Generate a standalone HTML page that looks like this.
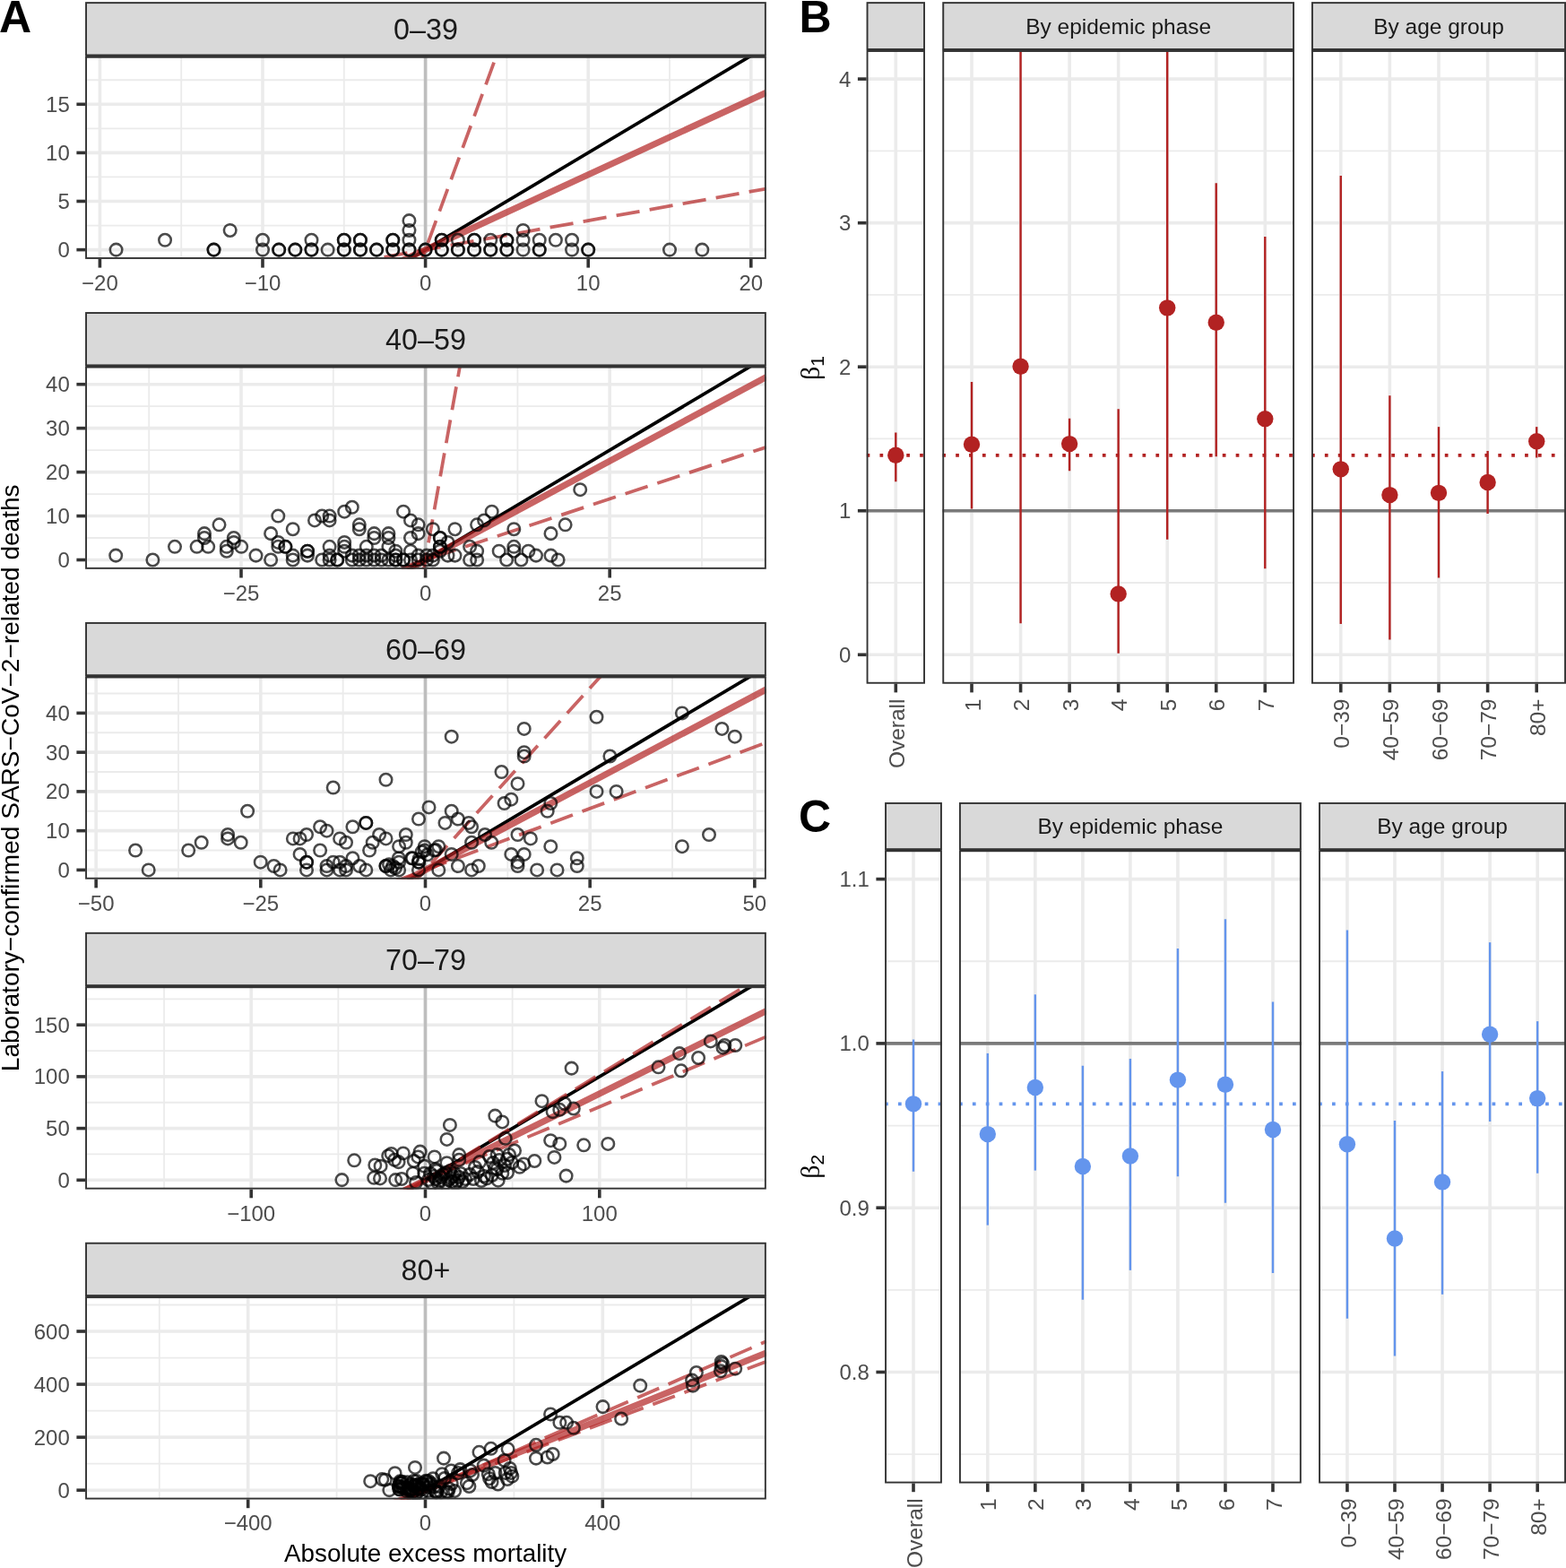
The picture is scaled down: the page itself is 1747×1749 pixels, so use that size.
<!DOCTYPE html>
<html><head><meta charset="utf-8"><title>Figure</title>
<style>html,body{margin:0;padding:0;background:#fff;}svg{display:block;}</style>
</head><body>
<svg width="1747" height="1749" viewBox="0 0 1747 1749">
<rect x="0" y="0" width="1747" height="1749" fill="#FFFFFF"/>
<rect x="95.1" y="2.2" width="759.7" height="60.4" fill="#D9D9D9"/>
<rect x="96.05" y="3.15" width="757.8" height="58.5" fill="none" stroke="#333333" stroke-width="1.9"/>
<text x="474.95" y="44" font-size="32.3" fill="#1A1A1A" text-anchor="middle" font-weight="normal" font-family="'Liberation Sans', Arial, Helvetica, sans-serif">0–39</text>
<rect x="95.1" y="62.6" width="759.7" height="226.3" fill="#FFFFFF"/>
<clipPath id="c1"><rect x="95.1" y="62.6" width="759.7" height="226.3"/></clipPath>
<g clip-path="url(#c1)">
<line x1="95.1" y1="251.55" x2="854.8" y2="251.55" stroke="#EBEBEB" stroke-width="1.8"/>
<line x1="95.1" y1="197.45" x2="854.8" y2="197.45" stroke="#EBEBEB" stroke-width="1.8"/>
<line x1="95.1" y1="143.35" x2="854.8" y2="143.35" stroke="#EBEBEB" stroke-width="1.8"/>
<line x1="95.1" y1="89.25" x2="854.8" y2="89.25" stroke="#EBEBEB" stroke-width="1.8"/>
<line x1="202.2" y1="62.6" x2="202.2" y2="288.9" stroke="#EBEBEB" stroke-width="1.8"/>
<line x1="383.8" y1="62.6" x2="383.8" y2="288.9" stroke="#EBEBEB" stroke-width="1.8"/>
<line x1="565.4" y1="62.6" x2="565.4" y2="288.9" stroke="#EBEBEB" stroke-width="1.8"/>
<line x1="747" y1="62.6" x2="747" y2="288.9" stroke="#EBEBEB" stroke-width="1.8"/>
<line x1="95.1" y1="278.6" x2="854.8" y2="278.6" stroke="#EBEBEB" stroke-width="3.6"/>
<line x1="95.1" y1="224.5" x2="854.8" y2="224.5" stroke="#EBEBEB" stroke-width="3.6"/>
<line x1="95.1" y1="170.4" x2="854.8" y2="170.4" stroke="#EBEBEB" stroke-width="3.6"/>
<line x1="95.1" y1="116.3" x2="854.8" y2="116.3" stroke="#EBEBEB" stroke-width="3.6"/>
<line x1="111.4" y1="62.6" x2="111.4" y2="288.9" stroke="#EBEBEB" stroke-width="3.6"/>
<line x1="293" y1="62.6" x2="293" y2="288.9" stroke="#EBEBEB" stroke-width="3.6"/>
<line x1="474.6" y1="62.6" x2="474.6" y2="288.9" stroke="#EBEBEB" stroke-width="3.6"/>
<line x1="656.2" y1="62.6" x2="656.2" y2="288.9" stroke="#EBEBEB" stroke-width="3.6"/>
<line x1="837.8" y1="62.6" x2="837.8" y2="288.9" stroke="#EBEBEB" stroke-width="3.6"/>
<line x1="474.6" y1="62.6" x2="474.6" y2="288.9" stroke="#BEBEBE" stroke-width="3.6"/>
<line x1="95.1" y1="504.71" x2="854.8" y2="52.07" stroke="#000000" stroke-width="3.7"/>
<line x1="95.1" y1="453.61" x2="854.8" y2="103.27" stroke="#B22222" stroke-width="7.2" stroke-opacity="0.7"/>
<line x1="95.1" y1="1315.81" x2="854.8" y2="-760.52" stroke="#B22222" stroke-width="3.76" stroke-opacity="0.7" stroke-dasharray="26.3 11.3" stroke-dashoffset="15.31"/>
<line x1="95.1" y1="346.54" x2="854.8" y2="210.53" stroke="#B22222" stroke-width="3.76" stroke-opacity="0.7" stroke-dasharray="26.3 11.3" stroke-dashoffset="37.26"/>
<g fill="none" stroke="#000000" stroke-opacity="0.71" stroke-width="2.55">
<circle cx="129.56" cy="278.6" r="6.75"/>
<circle cx="184.04" cy="267.78" r="6.75"/>
<circle cx="238.52" cy="278.6" r="6.75"/>
<circle cx="238.52" cy="278.6" r="6.75"/>
<circle cx="256.68" cy="256.96" r="6.75"/>
<circle cx="293" cy="267.78" r="6.75"/>
<circle cx="293" cy="278.6" r="6.75"/>
<circle cx="311.16" cy="278.6" r="6.75"/>
<circle cx="311.16" cy="278.6" r="6.75"/>
<circle cx="329.32" cy="278.6" r="6.75"/>
<circle cx="329.32" cy="278.6" r="6.75"/>
<circle cx="347.48" cy="267.78" r="6.75"/>
<circle cx="347.48" cy="278.6" r="6.75"/>
<circle cx="347.48" cy="278.6" r="6.75"/>
<circle cx="365.64" cy="278.6" r="6.75"/>
<circle cx="383.8" cy="267.78" r="6.75"/>
<circle cx="383.8" cy="267.78" r="6.75"/>
<circle cx="383.8" cy="278.6" r="6.75"/>
<circle cx="383.8" cy="278.6" r="6.75"/>
<circle cx="401.96" cy="267.78" r="6.75"/>
<circle cx="401.96" cy="267.78" r="6.75"/>
<circle cx="401.96" cy="278.6" r="6.75"/>
<circle cx="401.96" cy="278.6" r="6.75"/>
<circle cx="420.12" cy="278.6" r="6.75"/>
<circle cx="420.12" cy="278.6" r="6.75"/>
<circle cx="438.28" cy="267.78" r="6.75"/>
<circle cx="438.28" cy="267.78" r="6.75"/>
<circle cx="438.28" cy="278.6" r="6.75"/>
<circle cx="438.28" cy="278.6" r="6.75"/>
<circle cx="456.44" cy="246.14" r="6.75"/>
<circle cx="456.44" cy="256.96" r="6.75"/>
<circle cx="456.44" cy="267.78" r="6.75"/>
<circle cx="456.44" cy="278.6" r="6.75"/>
<circle cx="456.44" cy="278.6" r="6.75"/>
<circle cx="474.6" cy="278.6" r="6.75"/>
<circle cx="474.6" cy="278.6" r="6.75"/>
<circle cx="492.76" cy="267.78" r="6.75"/>
<circle cx="492.76" cy="267.78" r="6.75"/>
<circle cx="492.76" cy="278.6" r="6.75"/>
<circle cx="492.76" cy="278.6" r="6.75"/>
<circle cx="510.92" cy="267.78" r="6.75"/>
<circle cx="510.92" cy="278.6" r="6.75"/>
<circle cx="510.92" cy="278.6" r="6.75"/>
<circle cx="529.08" cy="267.78" r="6.75"/>
<circle cx="529.08" cy="267.78" r="6.75"/>
<circle cx="529.08" cy="278.6" r="6.75"/>
<circle cx="529.08" cy="278.6" r="6.75"/>
<circle cx="547.24" cy="267.78" r="6.75"/>
<circle cx="547.24" cy="278.6" r="6.75"/>
<circle cx="547.24" cy="278.6" r="6.75"/>
<circle cx="565.4" cy="267.78" r="6.75"/>
<circle cx="565.4" cy="267.78" r="6.75"/>
<circle cx="565.4" cy="278.6" r="6.75"/>
<circle cx="565.4" cy="278.6" r="6.75"/>
<circle cx="583.56" cy="256.96" r="6.75"/>
<circle cx="583.56" cy="267.78" r="6.75"/>
<circle cx="583.56" cy="278.6" r="6.75"/>
<circle cx="601.72" cy="267.78" r="6.75"/>
<circle cx="601.72" cy="278.6" r="6.75"/>
<circle cx="601.72" cy="278.6" r="6.75"/>
<circle cx="619.88" cy="267.78" r="6.75"/>
<circle cx="638.04" cy="267.78" r="6.75"/>
<circle cx="638.04" cy="278.6" r="6.75"/>
<circle cx="656.2" cy="278.6" r="6.75"/>
<circle cx="656.2" cy="278.6" r="6.75"/>
<circle cx="747" cy="278.6" r="6.75"/>
<circle cx="783.32" cy="278.6" r="6.75"/>
</g>
</g>
<rect x="96.05" y="63.55" width="757.8" height="224.4" fill="none" stroke="#333333" stroke-width="1.9"/>
<line x1="95.6" y1="62.6" x2="854.3" y2="62.6" stroke="#333333" stroke-width="3.6"/>
<line x1="85.4" y1="278.6" x2="95.1" y2="278.6" stroke="#333333" stroke-width="3.6"/>
<text x="77.8" y="287.1" font-size="24" fill="#4D4D4D" text-anchor="end" font-weight="normal" font-family="'Liberation Sans', Arial, Helvetica, sans-serif">0</text>
<line x1="85.4" y1="224.5" x2="95.1" y2="224.5" stroke="#333333" stroke-width="3.6"/>
<text x="77.8" y="233" font-size="24" fill="#4D4D4D" text-anchor="end" font-weight="normal" font-family="'Liberation Sans', Arial, Helvetica, sans-serif">5</text>
<line x1="85.4" y1="170.4" x2="95.1" y2="170.4" stroke="#333333" stroke-width="3.6"/>
<text x="77.8" y="178.9" font-size="24" fill="#4D4D4D" text-anchor="end" font-weight="normal" font-family="'Liberation Sans', Arial, Helvetica, sans-serif">10</text>
<line x1="85.4" y1="116.3" x2="95.1" y2="116.3" stroke="#333333" stroke-width="3.6"/>
<text x="77.8" y="124.8" font-size="24" fill="#4D4D4D" text-anchor="end" font-weight="normal" font-family="'Liberation Sans', Arial, Helvetica, sans-serif">15</text>
<line x1="111.4" y1="288.9" x2="111.4" y2="298.6" stroke="#333333" stroke-width="3.6"/>
<text x="111.4" y="323.8" font-size="24" fill="#4D4D4D" text-anchor="middle" font-weight="normal" font-family="'Liberation Sans', Arial, Helvetica, sans-serif">−20</text>
<line x1="293" y1="288.9" x2="293" y2="298.6" stroke="#333333" stroke-width="3.6"/>
<text x="293" y="323.8" font-size="24" fill="#4D4D4D" text-anchor="middle" font-weight="normal" font-family="'Liberation Sans', Arial, Helvetica, sans-serif">−10</text>
<line x1="474.6" y1="288.9" x2="474.6" y2="298.6" stroke="#333333" stroke-width="3.6"/>
<text x="474.6" y="323.8" font-size="24" fill="#4D4D4D" text-anchor="middle" font-weight="normal" font-family="'Liberation Sans', Arial, Helvetica, sans-serif">0</text>
<line x1="656.2" y1="288.9" x2="656.2" y2="298.6" stroke="#333333" stroke-width="3.6"/>
<text x="656.2" y="323.8" font-size="24" fill="#4D4D4D" text-anchor="middle" font-weight="normal" font-family="'Liberation Sans', Arial, Helvetica, sans-serif">10</text>
<line x1="837.8" y1="288.9" x2="837.8" y2="298.6" stroke="#333333" stroke-width="3.6"/>
<text x="837.8" y="323.8" font-size="24" fill="#4D4D4D" text-anchor="middle" font-weight="normal" font-family="'Liberation Sans', Arial, Helvetica, sans-serif">20</text>
<rect x="95.1" y="348.1" width="759.7" height="60.4" fill="#D9D9D9"/>
<rect x="96.05" y="349.05" width="757.8" height="58.5" fill="none" stroke="#333333" stroke-width="1.9"/>
<text x="474.95" y="389.9" font-size="32.3" fill="#1A1A1A" text-anchor="middle" font-weight="normal" font-family="'Liberation Sans', Arial, Helvetica, sans-serif">40–59</text>
<rect x="95.1" y="408.5" width="759.7" height="226.3" fill="#FFFFFF"/>
<clipPath id="c2"><rect x="95.1" y="408.5" width="759.7" height="226.3"/></clipPath>
<g clip-path="url(#c2)">
<line x1="95.1" y1="600.02" x2="854.8" y2="600.02" stroke="#EBEBEB" stroke-width="1.8"/>
<line x1="95.1" y1="551.08" x2="854.8" y2="551.08" stroke="#EBEBEB" stroke-width="1.8"/>
<line x1="95.1" y1="502.12" x2="854.8" y2="502.12" stroke="#EBEBEB" stroke-width="1.8"/>
<line x1="95.1" y1="453.18" x2="854.8" y2="453.18" stroke="#EBEBEB" stroke-width="1.8"/>
<line x1="166.2" y1="408.5" x2="166.2" y2="634.8" stroke="#EBEBEB" stroke-width="1.8"/>
<line x1="371.8" y1="408.5" x2="371.8" y2="634.8" stroke="#EBEBEB" stroke-width="1.8"/>
<line x1="577.4" y1="408.5" x2="577.4" y2="634.8" stroke="#EBEBEB" stroke-width="1.8"/>
<line x1="783" y1="408.5" x2="783" y2="634.8" stroke="#EBEBEB" stroke-width="1.8"/>
<line x1="95.1" y1="624.5" x2="854.8" y2="624.5" stroke="#EBEBEB" stroke-width="3.6"/>
<line x1="95.1" y1="575.55" x2="854.8" y2="575.55" stroke="#EBEBEB" stroke-width="3.6"/>
<line x1="95.1" y1="526.6" x2="854.8" y2="526.6" stroke="#EBEBEB" stroke-width="3.6"/>
<line x1="95.1" y1="477.65" x2="854.8" y2="477.65" stroke="#EBEBEB" stroke-width="3.6"/>
<line x1="95.1" y1="428.7" x2="854.8" y2="428.7" stroke="#EBEBEB" stroke-width="3.6"/>
<line x1="269" y1="408.5" x2="269" y2="634.8" stroke="#EBEBEB" stroke-width="3.6"/>
<line x1="474.6" y1="408.5" x2="474.6" y2="634.8" stroke="#EBEBEB" stroke-width="3.6"/>
<line x1="680.2" y1="408.5" x2="680.2" y2="634.8" stroke="#EBEBEB" stroke-width="3.6"/>
<line x1="474.6" y1="408.5" x2="474.6" y2="634.8" stroke="#BEBEBE" stroke-width="3.6"/>
<line x1="95.1" y1="850.38" x2="854.8" y2="398.2" stroke="#000000" stroke-width="3.7"/>
<line x1="95.1" y1="828" x2="854.8" y2="420.63" stroke="#B22222" stroke-width="7.2" stroke-opacity="0.7"/>
<line x1="95.1" y1="2755.46" x2="854.8" y2="-1510.39" stroke="#B22222" stroke-width="3.76" stroke-opacity="0.7" stroke-dasharray="26.3 11.3" stroke-dashoffset="34.45"/>
<line x1="95.1" y1="749.99" x2="854.8" y2="498.78" stroke="#B22222" stroke-width="3.76" stroke-opacity="0.7" stroke-dasharray="26.3 11.3" stroke-dashoffset="4.62"/>
<g fill="none" stroke="#000000" stroke-opacity="0.71" stroke-width="2.55">
<circle cx="129.2" cy="619.61" r="6.75"/>
<circle cx="170.4" cy="624.5" r="6.75"/>
<circle cx="195" cy="609.82" r="6.75"/>
<circle cx="219.6" cy="609.82" r="6.75"/>
<circle cx="228" cy="595.13" r="6.75"/>
<circle cx="228" cy="600.02" r="6.75"/>
<circle cx="232.2" cy="609.82" r="6.75"/>
<circle cx="244.5" cy="585.34" r="6.75"/>
<circle cx="252.8" cy="609.82" r="6.75"/>
<circle cx="252.8" cy="614.71" r="6.75"/>
<circle cx="260.8" cy="600.02" r="6.75"/>
<circle cx="260.8" cy="604.92" r="6.75"/>
<circle cx="269.2" cy="609.82" r="6.75"/>
<circle cx="285.5" cy="619.61" r="6.75"/>
<circle cx="302.1" cy="624.5" r="6.75"/>
<circle cx="302.1" cy="595.13" r="6.75"/>
<circle cx="310.3" cy="575.55" r="6.75"/>
<circle cx="310.3" cy="604.92" r="6.75"/>
<circle cx="310.3" cy="609.82" r="6.75"/>
<circle cx="318.4" cy="609.82" r="6.75"/>
<circle cx="318.4" cy="609.82" r="6.75"/>
<circle cx="326.7" cy="590.24" r="6.75"/>
<circle cx="326.7" cy="619.61" r="6.75"/>
<circle cx="326.7" cy="624.5" r="6.75"/>
<circle cx="343" cy="614.71" r="6.75"/>
<circle cx="343" cy="614.71" r="6.75"/>
<circle cx="343" cy="619.61" r="6.75"/>
<circle cx="351" cy="580.45" r="6.75"/>
<circle cx="359.2" cy="575.55" r="6.75"/>
<circle cx="359.2" cy="624.5" r="6.75"/>
<circle cx="367.6" cy="575.55" r="6.75"/>
<circle cx="367.6" cy="580.45" r="6.75"/>
<circle cx="367.6" cy="609.82" r="6.75"/>
<circle cx="367.6" cy="619.61" r="6.75"/>
<circle cx="367.6" cy="624.5" r="6.75"/>
<circle cx="376.2" cy="624.5" r="6.75"/>
<circle cx="376.2" cy="624.5" r="6.75"/>
<circle cx="384.2" cy="570.65" r="6.75"/>
<circle cx="384.2" cy="604.92" r="6.75"/>
<circle cx="384.2" cy="609.82" r="6.75"/>
<circle cx="384.2" cy="614.71" r="6.75"/>
<circle cx="392.8" cy="565.76" r="6.75"/>
<circle cx="392.8" cy="619.61" r="6.75"/>
<circle cx="392.8" cy="624.5" r="6.75"/>
<circle cx="400.8" cy="585.34" r="6.75"/>
<circle cx="400.8" cy="590.24" r="6.75"/>
<circle cx="400.8" cy="619.61" r="6.75"/>
<circle cx="400.8" cy="624.5" r="6.75"/>
<circle cx="408.8" cy="609.82" r="6.75"/>
<circle cx="408.8" cy="619.61" r="6.75"/>
<circle cx="408.8" cy="624.5" r="6.75"/>
<circle cx="417.4" cy="595.13" r="6.75"/>
<circle cx="417.4" cy="600.02" r="6.75"/>
<circle cx="417.4" cy="619.61" r="6.75"/>
<circle cx="417.4" cy="624.5" r="6.75"/>
<circle cx="425.5" cy="624.5" r="6.75"/>
<circle cx="425.5" cy="619.61" r="6.75"/>
<circle cx="433.4" cy="595.13" r="6.75"/>
<circle cx="433.4" cy="600.02" r="6.75"/>
<circle cx="433.4" cy="609.82" r="6.75"/>
<circle cx="433.4" cy="624.5" r="6.75"/>
<circle cx="441.4" cy="614.71" r="6.75"/>
<circle cx="441.4" cy="619.61" r="6.75"/>
<circle cx="441.4" cy="624.5" r="6.75"/>
<circle cx="441.4" cy="624.5" r="6.75"/>
<circle cx="450" cy="570.65" r="6.75"/>
<circle cx="450" cy="624.5" r="6.75"/>
<circle cx="450" cy="624.5" r="6.75"/>
<circle cx="458" cy="580.45" r="6.75"/>
<circle cx="458" cy="600.02" r="6.75"/>
<circle cx="458" cy="614.71" r="6.75"/>
<circle cx="458" cy="624.5" r="6.75"/>
<circle cx="466.6" cy="585.34" r="6.75"/>
<circle cx="466.6" cy="595.13" r="6.75"/>
<circle cx="466.6" cy="619.61" r="6.75"/>
<circle cx="466.6" cy="624.5" r="6.75"/>
<circle cx="476" cy="619.61" r="6.75"/>
<circle cx="476" cy="624.5" r="6.75"/>
<circle cx="482.9" cy="590.24" r="6.75"/>
<circle cx="482.9" cy="619.61" r="6.75"/>
<circle cx="482.9" cy="624.5" r="6.75"/>
<circle cx="490.9" cy="600.02" r="6.75"/>
<circle cx="490.9" cy="600.02" r="6.75"/>
<circle cx="490.9" cy="609.82" r="6.75"/>
<circle cx="490.9" cy="609.82" r="6.75"/>
<circle cx="490.9" cy="614.71" r="6.75"/>
<circle cx="499.5" cy="604.92" r="6.75"/>
<circle cx="499.5" cy="619.61" r="6.75"/>
<circle cx="507.5" cy="590.24" r="6.75"/>
<circle cx="507.5" cy="619.61" r="6.75"/>
<circle cx="524.1" cy="609.82" r="6.75"/>
<circle cx="524.1" cy="624.5" r="6.75"/>
<circle cx="532.1" cy="585.34" r="6.75"/>
<circle cx="532.1" cy="614.71" r="6.75"/>
<circle cx="532.1" cy="624.5" r="6.75"/>
<circle cx="540.1" cy="580.45" r="6.75"/>
<circle cx="548.7" cy="570.65" r="6.75"/>
<circle cx="556.7" cy="614.71" r="6.75"/>
<circle cx="565.1" cy="624.5" r="6.75"/>
<circle cx="573.3" cy="590.24" r="6.75"/>
<circle cx="573.3" cy="609.82" r="6.75"/>
<circle cx="573.3" cy="614.71" r="6.75"/>
<circle cx="581.4" cy="624.5" r="6.75"/>
<circle cx="589.4" cy="614.71" r="6.75"/>
<circle cx="598" cy="619.61" r="6.75"/>
<circle cx="614.5" cy="595.13" r="6.75"/>
<circle cx="614.5" cy="619.61" r="6.75"/>
<circle cx="622.6" cy="624.5" r="6.75"/>
<circle cx="630.6" cy="585.34" r="6.75"/>
<circle cx="647.2" cy="546.18" r="6.75"/>
</g>
</g>
<rect x="96.05" y="409.45" width="757.8" height="224.4" fill="none" stroke="#333333" stroke-width="1.9"/>
<line x1="95.6" y1="408.5" x2="854.3" y2="408.5" stroke="#333333" stroke-width="3.6"/>
<line x1="85.4" y1="624.5" x2="95.1" y2="624.5" stroke="#333333" stroke-width="3.6"/>
<text x="77.8" y="633" font-size="24" fill="#4D4D4D" text-anchor="end" font-weight="normal" font-family="'Liberation Sans', Arial, Helvetica, sans-serif">0</text>
<line x1="85.4" y1="575.55" x2="95.1" y2="575.55" stroke="#333333" stroke-width="3.6"/>
<text x="77.8" y="584.05" font-size="24" fill="#4D4D4D" text-anchor="end" font-weight="normal" font-family="'Liberation Sans', Arial, Helvetica, sans-serif">10</text>
<line x1="85.4" y1="526.6" x2="95.1" y2="526.6" stroke="#333333" stroke-width="3.6"/>
<text x="77.8" y="535.1" font-size="24" fill="#4D4D4D" text-anchor="end" font-weight="normal" font-family="'Liberation Sans', Arial, Helvetica, sans-serif">20</text>
<line x1="85.4" y1="477.65" x2="95.1" y2="477.65" stroke="#333333" stroke-width="3.6"/>
<text x="77.8" y="486.15" font-size="24" fill="#4D4D4D" text-anchor="end" font-weight="normal" font-family="'Liberation Sans', Arial, Helvetica, sans-serif">30</text>
<line x1="85.4" y1="428.7" x2="95.1" y2="428.7" stroke="#333333" stroke-width="3.6"/>
<text x="77.8" y="437.2" font-size="24" fill="#4D4D4D" text-anchor="end" font-weight="normal" font-family="'Liberation Sans', Arial, Helvetica, sans-serif">40</text>
<line x1="269" y1="634.8" x2="269" y2="644.5" stroke="#333333" stroke-width="3.6"/>
<text x="269" y="669.7" font-size="24" fill="#4D4D4D" text-anchor="middle" font-weight="normal" font-family="'Liberation Sans', Arial, Helvetica, sans-serif">−25</text>
<line x1="474.6" y1="634.8" x2="474.6" y2="644.5" stroke="#333333" stroke-width="3.6"/>
<text x="474.6" y="669.7" font-size="24" fill="#4D4D4D" text-anchor="middle" font-weight="normal" font-family="'Liberation Sans', Arial, Helvetica, sans-serif">0</text>
<line x1="680.2" y1="634.8" x2="680.2" y2="644.5" stroke="#333333" stroke-width="3.6"/>
<text x="680.2" y="669.7" font-size="24" fill="#4D4D4D" text-anchor="middle" font-weight="normal" font-family="'Liberation Sans', Arial, Helvetica, sans-serif">25</text>
<rect x="95.1" y="694" width="759.7" height="60.4" fill="#D9D9D9"/>
<rect x="96.05" y="694.95" width="757.8" height="58.5" fill="none" stroke="#333333" stroke-width="1.9"/>
<text x="474.95" y="735.8" font-size="32.3" fill="#1A1A1A" text-anchor="middle" font-weight="normal" font-family="'Liberation Sans', Arial, Helvetica, sans-serif">60–69</text>
<rect x="95.1" y="754.4" width="759.7" height="226.3" fill="#FFFFFF"/>
<clipPath id="c3"><rect x="95.1" y="754.4" width="759.7" height="226.3"/></clipPath>
<g clip-path="url(#c3)">
<line x1="95.1" y1="948.52" x2="854.8" y2="948.52" stroke="#EBEBEB" stroke-width="1.8"/>
<line x1="95.1" y1="904.77" x2="854.8" y2="904.77" stroke="#EBEBEB" stroke-width="1.8"/>
<line x1="95.1" y1="861.02" x2="854.8" y2="861.02" stroke="#EBEBEB" stroke-width="1.8"/>
<line x1="95.1" y1="817.27" x2="854.8" y2="817.27" stroke="#EBEBEB" stroke-width="1.8"/>
<line x1="95.1" y1="773.52" x2="854.8" y2="773.52" stroke="#EBEBEB" stroke-width="1.8"/>
<line x1="198.99" y1="754.4" x2="198.99" y2="980.7" stroke="#EBEBEB" stroke-width="1.8"/>
<line x1="382.66" y1="754.4" x2="382.66" y2="980.7" stroke="#EBEBEB" stroke-width="1.8"/>
<line x1="566.34" y1="754.4" x2="566.34" y2="980.7" stroke="#EBEBEB" stroke-width="1.8"/>
<line x1="750.01" y1="754.4" x2="750.01" y2="980.7" stroke="#EBEBEB" stroke-width="1.8"/>
<line x1="95.1" y1="970.4" x2="854.8" y2="970.4" stroke="#EBEBEB" stroke-width="3.6"/>
<line x1="95.1" y1="926.65" x2="854.8" y2="926.65" stroke="#EBEBEB" stroke-width="3.6"/>
<line x1="95.1" y1="882.9" x2="854.8" y2="882.9" stroke="#EBEBEB" stroke-width="3.6"/>
<line x1="95.1" y1="839.15" x2="854.8" y2="839.15" stroke="#EBEBEB" stroke-width="3.6"/>
<line x1="95.1" y1="795.4" x2="854.8" y2="795.4" stroke="#EBEBEB" stroke-width="3.6"/>
<line x1="107.15" y1="754.4" x2="107.15" y2="980.7" stroke="#EBEBEB" stroke-width="3.6"/>
<line x1="290.82" y1="754.4" x2="290.82" y2="980.7" stroke="#EBEBEB" stroke-width="3.6"/>
<line x1="474.5" y1="754.4" x2="474.5" y2="980.7" stroke="#EBEBEB" stroke-width="3.6"/>
<line x1="658.17" y1="754.4" x2="658.17" y2="980.7" stroke="#EBEBEB" stroke-width="3.6"/>
<line x1="841.85" y1="754.4" x2="841.85" y2="980.7" stroke="#EBEBEB" stroke-width="3.6"/>
<line x1="474.5" y1="754.4" x2="474.5" y2="980.7" stroke="#BEBEBE" stroke-width="3.6"/>
<line x1="95.1" y1="1196.33" x2="854.8" y2="743.94" stroke="#000000" stroke-width="3.7"/>
<line x1="95.1" y1="1171.4" x2="854.8" y2="768.92" stroke="#B22222" stroke-width="7.2" stroke-opacity="0.7"/>
<line x1="95.1" y1="1389.56" x2="854.8" y2="550.25" stroke="#B22222" stroke-width="3.76" stroke-opacity="0.7" stroke-dasharray="26.3 11.3" stroke-dashoffset="26.06"/>
<line x1="95.1" y1="1112.05" x2="854.8" y2="828.42" stroke="#B22222" stroke-width="3.76" stroke-opacity="0.7" stroke-dasharray="26.3 11.3" stroke-dashoffset="9.82"/>
<g fill="none" stroke="#000000" stroke-opacity="0.71" stroke-width="2.55">
<circle cx="151.1" cy="948.52" r="6.75"/>
<circle cx="165.7" cy="970.4" r="6.75"/>
<circle cx="210.2" cy="948.52" r="6.75"/>
<circle cx="224.7" cy="939.77" r="6.75"/>
<circle cx="254.1" cy="931.02" r="6.75"/>
<circle cx="254.1" cy="935.4" r="6.75"/>
<circle cx="268.7" cy="939.77" r="6.75"/>
<circle cx="276.1" cy="904.77" r="6.75"/>
<circle cx="290.7" cy="961.65" r="6.75"/>
<circle cx="305.5" cy="966.02" r="6.75"/>
<circle cx="312.6" cy="970.4" r="6.75"/>
<circle cx="326.9" cy="935.4" r="6.75"/>
<circle cx="334.6" cy="935.4" r="6.75"/>
<circle cx="334.6" cy="952.9" r="6.75"/>
<circle cx="342" cy="931.02" r="6.75"/>
<circle cx="342" cy="961.65" r="6.75"/>
<circle cx="342" cy="961.65" r="6.75"/>
<circle cx="342" cy="970.4" r="6.75"/>
<circle cx="357.1" cy="922.27" r="6.75"/>
<circle cx="357.1" cy="948.52" r="6.75"/>
<circle cx="364.5" cy="926.65" r="6.75"/>
<circle cx="364.5" cy="966.02" r="6.75"/>
<circle cx="364.5" cy="970.4" r="6.75"/>
<circle cx="371.7" cy="878.52" r="6.75"/>
<circle cx="371.7" cy="961.65" r="6.75"/>
<circle cx="379.1" cy="935.4" r="6.75"/>
<circle cx="379.1" cy="961.65" r="6.75"/>
<circle cx="379.1" cy="970.4" r="6.75"/>
<circle cx="386" cy="939.77" r="6.75"/>
<circle cx="386" cy="966.02" r="6.75"/>
<circle cx="386" cy="970.4" r="6.75"/>
<circle cx="393.4" cy="922.27" r="6.75"/>
<circle cx="393.4" cy="957.27" r="6.75"/>
<circle cx="401.1" cy="966.02" r="6.75"/>
<circle cx="408.3" cy="917.9" r="6.75"/>
<circle cx="408.3" cy="917.9" r="6.75"/>
<circle cx="408.3" cy="970.4" r="6.75"/>
<circle cx="412.1" cy="948.52" r="6.75"/>
<circle cx="415.7" cy="939.77" r="6.75"/>
<circle cx="423.1" cy="931.02" r="6.75"/>
<circle cx="430.5" cy="869.77" r="6.75"/>
<circle cx="430.5" cy="935.4" r="6.75"/>
<circle cx="430.5" cy="966.02" r="6.75"/>
<circle cx="430.5" cy="966.02" r="6.75"/>
<circle cx="438.2" cy="966.02" r="6.75"/>
<circle cx="445.1" cy="944.15" r="6.75"/>
<circle cx="445.1" cy="961.65" r="6.75"/>
<circle cx="445.1" cy="970.4" r="6.75"/>
<circle cx="452.8" cy="931.02" r="6.75"/>
<circle cx="452.8" cy="939.77" r="6.75"/>
<circle cx="460.2" cy="957.27" r="6.75"/>
<circle cx="467" cy="913.52" r="6.75"/>
<circle cx="467" cy="961.65" r="6.75"/>
<circle cx="467" cy="961.65" r="6.75"/>
<circle cx="467" cy="970.4" r="6.75"/>
<circle cx="503.7" cy="821.65" r="6.75"/>
<circle cx="478.5" cy="900.4" r="6.75"/>
<circle cx="444.8" cy="957.27" r="6.75"/>
<circle cx="459.2" cy="957.27" r="6.75"/>
<circle cx="473.7" cy="944.15" r="6.75"/>
<circle cx="473.7" cy="948.52" r="6.75"/>
<circle cx="484.5" cy="948.52" r="6.75"/>
<circle cx="489.3" cy="944.15" r="6.75"/>
<circle cx="489.3" cy="970.4" r="6.75"/>
<circle cx="496.5" cy="917.9" r="6.75"/>
<circle cx="503.7" cy="904.77" r="6.75"/>
<circle cx="503.7" cy="952.9" r="6.75"/>
<circle cx="510.9" cy="913.52" r="6.75"/>
<circle cx="510.9" cy="966.02" r="6.75"/>
<circle cx="522.9" cy="917.9" r="6.75"/>
<circle cx="526.1" cy="922.27" r="6.75"/>
<circle cx="526.1" cy="939.77" r="6.75"/>
<circle cx="526.1" cy="970.4" r="6.75"/>
<circle cx="533.8" cy="966.02" r="6.75"/>
<circle cx="541" cy="931.02" r="6.75"/>
<circle cx="548.2" cy="939.77" r="6.75"/>
<circle cx="559.5" cy="861.02" r="6.75"/>
<circle cx="562.6" cy="896.02" r="6.75"/>
<circle cx="570.3" cy="891.65" r="6.75"/>
<circle cx="570.3" cy="952.9" r="6.75"/>
<circle cx="577.5" cy="874.15" r="6.75"/>
<circle cx="577.5" cy="931.02" r="6.75"/>
<circle cx="577.5" cy="961.65" r="6.75"/>
<circle cx="577.5" cy="966.02" r="6.75"/>
<circle cx="584.7" cy="812.9" r="6.75"/>
<circle cx="584.7" cy="839.15" r="6.75"/>
<circle cx="584.7" cy="843.52" r="6.75"/>
<circle cx="584.7" cy="952.9" r="6.75"/>
<circle cx="591.9" cy="935.4" r="6.75"/>
<circle cx="599.1" cy="970.4" r="6.75"/>
<circle cx="610.7" cy="904.77" r="6.75"/>
<circle cx="614.3" cy="896.02" r="6.75"/>
<circle cx="614.3" cy="944.15" r="6.75"/>
<circle cx="621.5" cy="970.4" r="6.75"/>
<circle cx="643.8" cy="957.27" r="6.75"/>
<circle cx="643.8" cy="966.02" r="6.75"/>
<circle cx="665.5" cy="799.77" r="6.75"/>
<circle cx="665.5" cy="882.9" r="6.75"/>
<circle cx="680.4" cy="843.52" r="6.75"/>
<circle cx="687.6" cy="882.9" r="6.75"/>
<circle cx="760.9" cy="795.4" r="6.75"/>
<circle cx="760.9" cy="944.15" r="6.75"/>
<circle cx="791" cy="931.02" r="6.75"/>
<circle cx="805.4" cy="812.9" r="6.75"/>
<circle cx="819.8" cy="821.65" r="6.75"/>
<circle cx="470.6" cy="950.27" r="6.75"/>
<circle cx="476.8" cy="953.34" r="6.75"/>
<circle cx="467.5" cy="958.15" r="6.75"/>
<circle cx="486.1" cy="948.09" r="6.75"/>
<circle cx="434" cy="964.27" r="6.75"/>
<circle cx="441" cy="968.21" r="6.75"/>
<circle cx="436" cy="970.4" r="6.75"/>
</g>
</g>
<rect x="96.05" y="755.35" width="757.8" height="224.4" fill="none" stroke="#333333" stroke-width="1.9"/>
<line x1="95.6" y1="754.4" x2="854.3" y2="754.4" stroke="#333333" stroke-width="3.6"/>
<line x1="85.4" y1="970.4" x2="95.1" y2="970.4" stroke="#333333" stroke-width="3.6"/>
<text x="77.8" y="978.9" font-size="24" fill="#4D4D4D" text-anchor="end" font-weight="normal" font-family="'Liberation Sans', Arial, Helvetica, sans-serif">0</text>
<line x1="85.4" y1="926.65" x2="95.1" y2="926.65" stroke="#333333" stroke-width="3.6"/>
<text x="77.8" y="935.15" font-size="24" fill="#4D4D4D" text-anchor="end" font-weight="normal" font-family="'Liberation Sans', Arial, Helvetica, sans-serif">10</text>
<line x1="85.4" y1="882.9" x2="95.1" y2="882.9" stroke="#333333" stroke-width="3.6"/>
<text x="77.8" y="891.4" font-size="24" fill="#4D4D4D" text-anchor="end" font-weight="normal" font-family="'Liberation Sans', Arial, Helvetica, sans-serif">20</text>
<line x1="85.4" y1="839.15" x2="95.1" y2="839.15" stroke="#333333" stroke-width="3.6"/>
<text x="77.8" y="847.65" font-size="24" fill="#4D4D4D" text-anchor="end" font-weight="normal" font-family="'Liberation Sans', Arial, Helvetica, sans-serif">30</text>
<line x1="85.4" y1="795.4" x2="95.1" y2="795.4" stroke="#333333" stroke-width="3.6"/>
<text x="77.8" y="803.9" font-size="24" fill="#4D4D4D" text-anchor="end" font-weight="normal" font-family="'Liberation Sans', Arial, Helvetica, sans-serif">40</text>
<line x1="107.15" y1="980.7" x2="107.15" y2="990.4" stroke="#333333" stroke-width="3.6"/>
<text x="107.15" y="1015.6" font-size="24" fill="#4D4D4D" text-anchor="middle" font-weight="normal" font-family="'Liberation Sans', Arial, Helvetica, sans-serif">−50</text>
<line x1="290.82" y1="980.7" x2="290.82" y2="990.4" stroke="#333333" stroke-width="3.6"/>
<text x="290.82" y="1015.6" font-size="24" fill="#4D4D4D" text-anchor="middle" font-weight="normal" font-family="'Liberation Sans', Arial, Helvetica, sans-serif">−25</text>
<line x1="474.5" y1="980.7" x2="474.5" y2="990.4" stroke="#333333" stroke-width="3.6"/>
<text x="474.5" y="1015.6" font-size="24" fill="#4D4D4D" text-anchor="middle" font-weight="normal" font-family="'Liberation Sans', Arial, Helvetica, sans-serif">0</text>
<line x1="658.17" y1="980.7" x2="658.17" y2="990.4" stroke="#333333" stroke-width="3.6"/>
<text x="658.17" y="1015.6" font-size="24" fill="#4D4D4D" text-anchor="middle" font-weight="normal" font-family="'Liberation Sans', Arial, Helvetica, sans-serif">25</text>
<line x1="841.85" y1="980.7" x2="841.85" y2="990.4" stroke="#333333" stroke-width="3.6"/>
<text x="841.85" y="1015.6" font-size="24" fill="#4D4D4D" text-anchor="middle" font-weight="normal" font-family="'Liberation Sans', Arial, Helvetica, sans-serif">50</text>
<rect x="95.1" y="1039.9" width="759.7" height="60.4" fill="#D9D9D9"/>
<rect x="96.05" y="1040.85" width="757.8" height="58.5" fill="none" stroke="#333333" stroke-width="1.9"/>
<text x="474.95" y="1081.7" font-size="32.3" fill="#1A1A1A" text-anchor="middle" font-weight="normal" font-family="'Liberation Sans', Arial, Helvetica, sans-serif">70–79</text>
<rect x="95.1" y="1100.3" width="759.7" height="226.3" fill="#FFFFFF"/>
<clipPath id="c4"><rect x="95.1" y="1100.3" width="759.7" height="226.3"/></clipPath>
<g clip-path="url(#c4)">
<line x1="95.1" y1="1287.45" x2="854.8" y2="1287.45" stroke="#EBEBEB" stroke-width="1.8"/>
<line x1="95.1" y1="1229.75" x2="854.8" y2="1229.75" stroke="#EBEBEB" stroke-width="1.8"/>
<line x1="95.1" y1="1172.05" x2="854.8" y2="1172.05" stroke="#EBEBEB" stroke-width="1.8"/>
<line x1="95.1" y1="1114.35" x2="854.8" y2="1114.35" stroke="#EBEBEB" stroke-width="1.8"/>
<line x1="183.05" y1="1100.3" x2="183.05" y2="1326.6" stroke="#EBEBEB" stroke-width="1.8"/>
<line x1="377.35" y1="1100.3" x2="377.35" y2="1326.6" stroke="#EBEBEB" stroke-width="1.8"/>
<line x1="571.65" y1="1100.3" x2="571.65" y2="1326.6" stroke="#EBEBEB" stroke-width="1.8"/>
<line x1="765.95" y1="1100.3" x2="765.95" y2="1326.6" stroke="#EBEBEB" stroke-width="1.8"/>
<line x1="95.1" y1="1316.3" x2="854.8" y2="1316.3" stroke="#EBEBEB" stroke-width="3.6"/>
<line x1="95.1" y1="1258.6" x2="854.8" y2="1258.6" stroke="#EBEBEB" stroke-width="3.6"/>
<line x1="95.1" y1="1200.9" x2="854.8" y2="1200.9" stroke="#EBEBEB" stroke-width="3.6"/>
<line x1="95.1" y1="1143.2" x2="854.8" y2="1143.2" stroke="#EBEBEB" stroke-width="3.6"/>
<line x1="280.2" y1="1100.3" x2="280.2" y2="1326.6" stroke="#EBEBEB" stroke-width="3.6"/>
<line x1="474.5" y1="1100.3" x2="474.5" y2="1326.6" stroke="#EBEBEB" stroke-width="3.6"/>
<line x1="668.8" y1="1100.3" x2="668.8" y2="1326.6" stroke="#EBEBEB" stroke-width="3.6"/>
<line x1="474.5" y1="1100.3" x2="474.5" y2="1326.6" stroke="#BEBEBE" stroke-width="3.6"/>
<line x1="95.1" y1="1541.64" x2="854.8" y2="1090.43" stroke="#000000" stroke-width="3.7"/>
<line x1="95.1" y1="1504.55" x2="854.8" y2="1127.6" stroke="#B22222" stroke-width="7.2" stroke-opacity="0.7"/>
<line x1="95.1" y1="1546.23" x2="854.8" y2="1085.82" stroke="#B22222" stroke-width="3.76" stroke-opacity="0.7" stroke-dasharray="26.3 11.3" stroke-dashoffset="37.4"/>
<line x1="95.1" y1="1475.83" x2="854.8" y2="1156.39" stroke="#B22222" stroke-width="3.76" stroke-opacity="0.7" stroke-dasharray="26.3 11.3" stroke-dashoffset="28.81"/>
<g fill="none" stroke="#000000" stroke-opacity="0.71" stroke-width="2.55">
<circle cx="381.4" cy="1316.1" r="6.75"/>
<circle cx="395.2" cy="1294.3" r="6.75"/>
<circle cx="418.3" cy="1299.5" r="6.75"/>
<circle cx="424.6" cy="1300.7" r="6.75"/>
<circle cx="417.2" cy="1313.8" r="6.75"/>
<circle cx="424" cy="1314.4" r="6.75"/>
<circle cx="441.2" cy="1316.1" r="6.75"/>
<circle cx="448.1" cy="1315" r="6.75"/>
<circle cx="433.2" cy="1289.2" r="6.75"/>
<circle cx="436.6" cy="1286.9" r="6.75"/>
<circle cx="440.1" cy="1293.8" r="6.75"/>
<circle cx="444.6" cy="1296.1" r="6.75"/>
<circle cx="449.8" cy="1286.4" r="6.75"/>
<circle cx="460.7" cy="1308.7" r="6.75"/>
<circle cx="461.8" cy="1295" r="6.75"/>
<circle cx="466.4" cy="1290.4" r="6.75"/>
<circle cx="468.7" cy="1284.6" r="6.75"/>
<circle cx="473.3" cy="1300.7" r="6.75"/>
<circle cx="473.3" cy="1308.7" r="6.75"/>
<circle cx="464.1" cy="1319" r="6.75"/>
<circle cx="484.7" cy="1290.4" r="6.75"/>
<circle cx="485.9" cy="1304.1" r="6.75"/>
<circle cx="498.5" cy="1297.2" r="6.75"/>
<circle cx="501.9" cy="1254.9" r="6.75"/>
<circle cx="498.5" cy="1270.9" r="6.75"/>
<circle cx="512.2" cy="1288.1" r="6.75"/>
<circle cx="512.2" cy="1293.8" r="6.75"/>
<circle cx="535.1" cy="1296.1" r="6.75"/>
<circle cx="552.3" cy="1244.6" r="6.75"/>
<circle cx="560.3" cy="1251.4" r="6.75"/>
<circle cx="563.7" cy="1269.8" r="6.75"/>
<circle cx="574" cy="1283.5" r="6.75"/>
<circle cx="566" cy="1292.7" r="6.75"/>
<circle cx="554.6" cy="1288.1" r="6.75"/>
<circle cx="579.7" cy="1301.8" r="6.75"/>
<circle cx="584.3" cy="1298.4" r="6.75"/>
<circle cx="596.3" cy="1295" r="6.75"/>
<circle cx="554.6" cy="1304.1" r="6.75"/>
<circle cx="560.3" cy="1308.7" r="6.75"/>
<circle cx="548.8" cy="1311" r="6.75"/>
<circle cx="543.1" cy="1314.4" r="6.75"/>
<circle cx="555.7" cy="1316.7" r="6.75"/>
<circle cx="478" cy="1316" r="6.75"/>
<circle cx="484" cy="1312" r="6.75"/>
<circle cx="490" cy="1317" r="6.75"/>
<circle cx="494" cy="1310" r="6.75"/>
<circle cx="500" cy="1316" r="6.75"/>
<circle cx="505" cy="1312" r="6.75"/>
<circle cx="510" cy="1317" r="6.75"/>
<circle cx="514" cy="1309" r="6.75"/>
<circle cx="519" cy="1315" r="6.75"/>
<circle cx="487" cy="1306" r="6.75"/>
<circle cx="502" cy="1306" r="6.75"/>
<circle cx="497" cy="1320" r="6.75"/>
<circle cx="482" cy="1320" r="6.75"/>
<circle cx="508" cy="1320" r="6.75"/>
<circle cx="524" cy="1310" r="6.75"/>
<circle cx="528" cy="1315" r="6.75"/>
<circle cx="533" cy="1307" r="6.75"/>
<circle cx="537" cy="1317" r="6.75"/>
<circle cx="530" cy="1302" r="6.75"/>
<circle cx="540" cy="1312" r="6.75"/>
<circle cx="480" cy="1309" r="6.75"/>
<circle cx="486" cy="1315" r="6.75"/>
<circle cx="492" cy="1313" r="6.75"/>
<circle cx="497" cy="1308" r="6.75"/>
<circle cx="503" cy="1314" r="6.75"/>
<circle cx="507" cy="1309" r="6.75"/>
<circle cx="512" cy="1313" r="6.75"/>
<circle cx="516" cy="1318" r="6.75"/>
<circle cx="489" cy="1320" r="6.75"/>
<circle cx="504" cy="1318" r="6.75"/>
<circle cx="546" cy="1290" r="6.75"/>
<circle cx="550" cy="1297" r="6.75"/>
<circle cx="557" cy="1294" r="6.75"/>
<circle cx="563" cy="1300" r="6.75"/>
<circle cx="568" cy="1288" r="6.75"/>
<circle cx="571" cy="1297" r="6.75"/>
<circle cx="552" cy="1303" r="6.75"/>
<circle cx="566" cy="1308" r="6.75"/>
<circle cx="604.5" cy="1228.2" r="6.75"/>
<circle cx="614.2" cy="1272.2" r="6.75"/>
<circle cx="616.6" cy="1240.1" r="6.75"/>
<circle cx="618.4" cy="1290.9" r="6.75"/>
<circle cx="624.3" cy="1237.8" r="6.75"/>
<circle cx="624.3" cy="1275.9" r="6.75"/>
<circle cx="629.8" cy="1231" r="6.75"/>
<circle cx="631.6" cy="1311.6" r="6.75"/>
<circle cx="637.6" cy="1191.6" r="6.75"/>
<circle cx="639.8" cy="1236.5" r="6.75"/>
<circle cx="651.2" cy="1277.3" r="6.75"/>
<circle cx="678.3" cy="1275.9" r="6.75"/>
<circle cx="734.5" cy="1190.3" r="6.75"/>
<circle cx="758" cy="1175.1" r="6.75"/>
<circle cx="759.8" cy="1194.3" r="6.75"/>
<circle cx="779.1" cy="1180" r="6.75"/>
<circle cx="792.8" cy="1161.4" r="6.75"/>
<circle cx="806.5" cy="1168.7" r="6.75"/>
<circle cx="808.4" cy="1166" r="6.75"/>
<circle cx="820.3" cy="1166" r="6.75"/>
</g>
</g>
<rect x="96.05" y="1101.25" width="757.8" height="224.4" fill="none" stroke="#333333" stroke-width="1.9"/>
<line x1="95.6" y1="1100.3" x2="854.3" y2="1100.3" stroke="#333333" stroke-width="3.6"/>
<line x1="85.4" y1="1316.3" x2="95.1" y2="1316.3" stroke="#333333" stroke-width="3.6"/>
<text x="77.8" y="1324.8" font-size="24" fill="#4D4D4D" text-anchor="end" font-weight="normal" font-family="'Liberation Sans', Arial, Helvetica, sans-serif">0</text>
<line x1="85.4" y1="1258.6" x2="95.1" y2="1258.6" stroke="#333333" stroke-width="3.6"/>
<text x="77.8" y="1267.1" font-size="24" fill="#4D4D4D" text-anchor="end" font-weight="normal" font-family="'Liberation Sans', Arial, Helvetica, sans-serif">50</text>
<line x1="85.4" y1="1200.9" x2="95.1" y2="1200.9" stroke="#333333" stroke-width="3.6"/>
<text x="77.8" y="1209.4" font-size="24" fill="#4D4D4D" text-anchor="end" font-weight="normal" font-family="'Liberation Sans', Arial, Helvetica, sans-serif">100</text>
<line x1="85.4" y1="1143.2" x2="95.1" y2="1143.2" stroke="#333333" stroke-width="3.6"/>
<text x="77.8" y="1151.7" font-size="24" fill="#4D4D4D" text-anchor="end" font-weight="normal" font-family="'Liberation Sans', Arial, Helvetica, sans-serif">150</text>
<line x1="280.2" y1="1326.6" x2="280.2" y2="1336.3" stroke="#333333" stroke-width="3.6"/>
<text x="280.2" y="1361.5" font-size="24" fill="#4D4D4D" text-anchor="middle" font-weight="normal" font-family="'Liberation Sans', Arial, Helvetica, sans-serif">−100</text>
<line x1="474.5" y1="1326.6" x2="474.5" y2="1336.3" stroke="#333333" stroke-width="3.6"/>
<text x="474.5" y="1361.5" font-size="24" fill="#4D4D4D" text-anchor="middle" font-weight="normal" font-family="'Liberation Sans', Arial, Helvetica, sans-serif">0</text>
<line x1="668.8" y1="1326.6" x2="668.8" y2="1336.3" stroke="#333333" stroke-width="3.6"/>
<text x="668.8" y="1361.5" font-size="24" fill="#4D4D4D" text-anchor="middle" font-weight="normal" font-family="'Liberation Sans', Arial, Helvetica, sans-serif">100</text>
<rect x="95.1" y="1385.8" width="759.7" height="60.4" fill="#D9D9D9"/>
<rect x="96.05" y="1386.75" width="757.8" height="58.5" fill="none" stroke="#333333" stroke-width="1.9"/>
<text x="474.95" y="1427.6" font-size="32.3" fill="#1A1A1A" text-anchor="middle" font-weight="normal" font-family="'Liberation Sans', Arial, Helvetica, sans-serif">80+</text>
<rect x="95.1" y="1446.2" width="759.7" height="226.3" fill="#FFFFFF"/>
<clipPath id="c5"><rect x="95.1" y="1446.2" width="759.7" height="226.3"/></clipPath>
<g clip-path="url(#c5)">
<line x1="95.1" y1="1632.67" x2="854.8" y2="1632.67" stroke="#EBEBEB" stroke-width="1.8"/>
<line x1="95.1" y1="1573.61" x2="854.8" y2="1573.61" stroke="#EBEBEB" stroke-width="1.8"/>
<line x1="95.1" y1="1514.55" x2="854.8" y2="1514.55" stroke="#EBEBEB" stroke-width="1.8"/>
<line x1="95.1" y1="1455.49" x2="854.8" y2="1455.49" stroke="#EBEBEB" stroke-width="1.8"/>
<line x1="177.8" y1="1446.2" x2="177.8" y2="1672.5" stroke="#EBEBEB" stroke-width="1.8"/>
<line x1="375.6" y1="1446.2" x2="375.6" y2="1672.5" stroke="#EBEBEB" stroke-width="1.8"/>
<line x1="573.4" y1="1446.2" x2="573.4" y2="1672.5" stroke="#EBEBEB" stroke-width="1.8"/>
<line x1="771.2" y1="1446.2" x2="771.2" y2="1672.5" stroke="#EBEBEB" stroke-width="1.8"/>
<line x1="95.1" y1="1662.2" x2="854.8" y2="1662.2" stroke="#EBEBEB" stroke-width="3.6"/>
<line x1="95.1" y1="1603.14" x2="854.8" y2="1603.14" stroke="#EBEBEB" stroke-width="3.6"/>
<line x1="95.1" y1="1544.08" x2="854.8" y2="1544.08" stroke="#EBEBEB" stroke-width="3.6"/>
<line x1="95.1" y1="1485.02" x2="854.8" y2="1485.02" stroke="#EBEBEB" stroke-width="3.6"/>
<line x1="276.7" y1="1446.2" x2="276.7" y2="1672.5" stroke="#EBEBEB" stroke-width="3.6"/>
<line x1="474.5" y1="1446.2" x2="474.5" y2="1672.5" stroke="#EBEBEB" stroke-width="3.6"/>
<line x1="672.3" y1="1446.2" x2="672.3" y2="1672.5" stroke="#EBEBEB" stroke-width="3.6"/>
<line x1="474.5" y1="1446.2" x2="474.5" y2="1672.5" stroke="#BEBEBE" stroke-width="3.6"/>
<line x1="95.1" y1="1888.77" x2="854.8" y2="1435.1" stroke="#000000" stroke-width="3.7"/>
<line x1="95.1" y1="1814.98" x2="854.8" y2="1509.06" stroke="#B22222" stroke-width="7.2" stroke-opacity="0.7"/>
<line x1="95.1" y1="1827.7" x2="854.8" y2="1496.31" stroke="#B22222" stroke-width="3.76" stroke-opacity="0.7" stroke-dasharray="26.3 11.3" stroke-dashoffset="4.7"/>
<line x1="95.1" y1="1805.32" x2="854.8" y2="1518.74" stroke="#B22222" stroke-width="3.76" stroke-opacity="0.7" stroke-dasharray="26.3 11.3" stroke-dashoffset="0.1"/>
<g fill="none" stroke="#000000" stroke-opacity="0.71" stroke-width="2.55">
<circle cx="413.2" cy="1652.2" r="6.75"/>
<circle cx="426.3" cy="1650.1" r="6.75"/>
<circle cx="429.8" cy="1650.7" r="6.75"/>
<circle cx="440.6" cy="1643.2" r="6.75"/>
<circle cx="434.3" cy="1662.1" r="6.75"/>
<circle cx="463" cy="1636.9" r="6.75"/>
<circle cx="495" cy="1626.6" r="6.75"/>
<circle cx="534.5" cy="1619.8" r="6.75"/>
<circle cx="547.7" cy="1615.8" r="6.75"/>
<circle cx="566.6" cy="1616.3" r="6.75"/>
<circle cx="598" cy="1611.8" r="6.75"/>
<circle cx="598" cy="1626.6" r="6.75"/>
<circle cx="562.6" cy="1628.9" r="6.75"/>
<circle cx="539.7" cy="1634.6" r="6.75"/>
<circle cx="610.7" cy="1625.5" r="6.75"/>
<circle cx="616.7" cy="1622" r="6.75"/>
<circle cx="614.1" cy="1577.4" r="6.75"/>
<circle cx="624.4" cy="1586.8" r="6.75"/>
<circle cx="632.1" cy="1586.8" r="6.75"/>
<circle cx="639.9" cy="1592.8" r="6.75"/>
<circle cx="672.5" cy="1569.1" r="6.75"/>
<circle cx="693.1" cy="1582.5" r="6.75"/>
<circle cx="714.2" cy="1545.6" r="6.75"/>
<circle cx="772.1" cy="1539.6" r="6.75"/>
<circle cx="773" cy="1545.6" r="6.75"/>
<circle cx="776.9" cy="1531" r="6.75"/>
<circle cx="804.7" cy="1519" r="6.75"/>
<circle cx="804.7" cy="1524.1" r="6.75"/>
<circle cx="803.9" cy="1529.3" r="6.75"/>
<circle cx="806" cy="1521" r="6.75"/>
<circle cx="820.2" cy="1526.7" r="6.75"/>
<circle cx="544.8" cy="1644.2" r="6.75"/>
<circle cx="546.1" cy="1649.2" r="6.75"/>
<circle cx="548.6" cy="1653" r="6.75"/>
<circle cx="552.4" cy="1642.9" r="6.75"/>
<circle cx="555.5" cy="1655.5" r="6.75"/>
<circle cx="568.8" cy="1637.9" r="6.75"/>
<circle cx="570" cy="1642.9" r="6.75"/>
<circle cx="571.3" cy="1646.7" r="6.75"/>
<circle cx="563.7" cy="1642.9" r="6.75"/>
<circle cx="566" cy="1650" r="6.75"/>
<circle cx="524.7" cy="1640.4" r="6.75"/>
<circle cx="527" cy="1645" r="6.75"/>
<circle cx="520.9" cy="1654.2" r="6.75"/>
<circle cx="523.4" cy="1658" r="6.75"/>
<circle cx="513.4" cy="1639.1" r="6.75"/>
<circle cx="511" cy="1643" r="6.75"/>
<circle cx="503.3" cy="1640.4" r="6.75"/>
<circle cx="493.2" cy="1644.2" r="6.75"/>
<circle cx="496" cy="1649" r="6.75"/>
<circle cx="500.8" cy="1660.5" r="6.75"/>
<circle cx="507.1" cy="1663" r="6.75"/>
<circle cx="498" cy="1664" r="6.75"/>
<circle cx="483.1" cy="1649.2" r="6.75"/>
<circle cx="478" cy="1652" r="6.75"/>
<circle cx="485.6" cy="1663" r="6.75"/>
<circle cx="490" cy="1658" r="6.75"/>
<circle cx="454.36" cy="1653.26" r="6.75"/>
<circle cx="464.83" cy="1652.09" r="6.75"/>
<circle cx="461.15" cy="1656.49" r="6.75"/>
<circle cx="445.86" cy="1658.61" r="6.75"/>
<circle cx="445.2" cy="1657.5" r="6.75"/>
<circle cx="446.24" cy="1652.36" r="6.75"/>
<circle cx="457.58" cy="1663.4" r="6.75"/>
<circle cx="447.96" cy="1654.35" r="6.75"/>
<circle cx="464.08" cy="1665.22" r="6.75"/>
<circle cx="462.47" cy="1656.95" r="6.75"/>
<circle cx="475.24" cy="1651.7" r="6.75"/>
<circle cx="471.47" cy="1655.34" r="6.75"/>
<circle cx="448.62" cy="1652.77" r="6.75"/>
<circle cx="453.87" cy="1663.24" r="6.75"/>
<circle cx="449.78" cy="1659.72" r="6.75"/>
<circle cx="464.45" cy="1656.59" r="6.75"/>
<circle cx="461.53" cy="1651.94" r="6.75"/>
<circle cx="445.91" cy="1654.09" r="6.75"/>
<circle cx="465.77" cy="1657.41" r="6.75"/>
<circle cx="454.05" cy="1659.78" r="6.75"/>
<circle cx="458.5" cy="1655.5" r="6.75"/>
<circle cx="469.42" cy="1661.48" r="6.75"/>
<circle cx="451.81" cy="1659.62" r="6.75"/>
<circle cx="460.81" cy="1664.13" r="6.75"/>
<circle cx="467.34" cy="1655.32" r="6.75"/>
<circle cx="475.37" cy="1652.77" r="6.75"/>
<circle cx="457.38" cy="1662.36" r="6.75"/>
<circle cx="448.86" cy="1658.33" r="6.75"/>
<circle cx="445.25" cy="1661.02" r="6.75"/>
<circle cx="468.47" cy="1659.6" r="6.75"/>
<circle cx="472.02" cy="1655.71" r="6.75"/>
<circle cx="466.25" cy="1659.92" r="6.75"/>
<circle cx="462.56" cy="1657.84" r="6.75"/>
<circle cx="470.88" cy="1665.17" r="6.75"/>
<circle cx="459.17" cy="1660.96" r="6.75"/>
<circle cx="445.94" cy="1661.52" r="6.75"/>
<circle cx="464.71" cy="1665.9" r="6.75"/>
<circle cx="470.3" cy="1655.27" r="6.75"/>
<circle cx="456.35" cy="1661.03" r="6.75"/>
<circle cx="444.72" cy="1657.93" r="6.75"/>
<circle cx="480.87" cy="1654.52" r="6.75"/>
<circle cx="477.71" cy="1662.99" r="6.75"/>
<circle cx="479.75" cy="1656.22" r="6.75"/>
<circle cx="487.34" cy="1664.33" r="6.75"/>
<circle cx="478.34" cy="1658.84" r="6.75"/>
<circle cx="491.93" cy="1664.48" r="6.75"/>
<circle cx="499.76" cy="1664.23" r="6.75"/>
<circle cx="484.07" cy="1658.4" r="6.75"/>
<circle cx="486.4" cy="1664.49" r="6.75"/>
<circle cx="503.77" cy="1654.96" r="6.75"/>
</g>
</g>
<rect x="96.05" y="1447.15" width="757.8" height="224.4" fill="none" stroke="#333333" stroke-width="1.9"/>
<line x1="95.6" y1="1446.2" x2="854.3" y2="1446.2" stroke="#333333" stroke-width="3.6"/>
<line x1="85.4" y1="1662.2" x2="95.1" y2="1662.2" stroke="#333333" stroke-width="3.6"/>
<text x="77.8" y="1670.7" font-size="24" fill="#4D4D4D" text-anchor="end" font-weight="normal" font-family="'Liberation Sans', Arial, Helvetica, sans-serif">0</text>
<line x1="85.4" y1="1603.14" x2="95.1" y2="1603.14" stroke="#333333" stroke-width="3.6"/>
<text x="77.8" y="1611.64" font-size="24" fill="#4D4D4D" text-anchor="end" font-weight="normal" font-family="'Liberation Sans', Arial, Helvetica, sans-serif">200</text>
<line x1="85.4" y1="1544.08" x2="95.1" y2="1544.08" stroke="#333333" stroke-width="3.6"/>
<text x="77.8" y="1552.58" font-size="24" fill="#4D4D4D" text-anchor="end" font-weight="normal" font-family="'Liberation Sans', Arial, Helvetica, sans-serif">400</text>
<line x1="85.4" y1="1485.02" x2="95.1" y2="1485.02" stroke="#333333" stroke-width="3.6"/>
<text x="77.8" y="1493.52" font-size="24" fill="#4D4D4D" text-anchor="end" font-weight="normal" font-family="'Liberation Sans', Arial, Helvetica, sans-serif">600</text>
<line x1="276.7" y1="1672.5" x2="276.7" y2="1682.2" stroke="#333333" stroke-width="3.6"/>
<text x="276.7" y="1707.4" font-size="24" fill="#4D4D4D" text-anchor="middle" font-weight="normal" font-family="'Liberation Sans', Arial, Helvetica, sans-serif">−400</text>
<line x1="474.5" y1="1672.5" x2="474.5" y2="1682.2" stroke="#333333" stroke-width="3.6"/>
<text x="474.5" y="1707.4" font-size="24" fill="#4D4D4D" text-anchor="middle" font-weight="normal" font-family="'Liberation Sans', Arial, Helvetica, sans-serif">0</text>
<line x1="672.3" y1="1672.5" x2="672.3" y2="1682.2" stroke="#333333" stroke-width="3.6"/>
<text x="672.3" y="1707.4" font-size="24" fill="#4D4D4D" text-anchor="middle" font-weight="normal" font-family="'Liberation Sans', Arial, Helvetica, sans-serif">400</text>
<text x="474.6" y="1742.4" font-size="27.8" fill="#000000" text-anchor="middle" font-weight="normal" font-family="'Liberation Sans', Arial, Helvetica, sans-serif">Absolute excess mortality</text>
<text x="0" y="0" font-size="28.05" fill="#000000" text-anchor="middle" font-family="'Liberation Sans', Arial, Helvetica, sans-serif" transform="translate(21.2 867.8) rotate(-90)">Laboratory−confirmed SARS−CoV−2−related deaths</text>
<text x="-0.9" y="35.7" font-size="50" fill="#000000" text-anchor="start" font-weight="bold" font-family="'Liberation Sans', Arial, Helvetica, sans-serif">A</text>
<text x="891.5" y="35.9" font-size="50" fill="#000000" text-anchor="start" font-weight="bold" font-family="'Liberation Sans', Arial, Helvetica, sans-serif">B</text>
<text x="891" y="928.4" font-size="50" fill="#000000" text-anchor="start" font-weight="bold" font-family="'Liberation Sans', Arial, Helvetica, sans-serif">C</text>
<rect x="966.6" y="2.2" width="65.4" height="53.8" fill="#D9D9D9"/>
<rect x="967.55" y="3.15" width="63.5" height="51.9" fill="none" stroke="#333333" stroke-width="1.9"/>
<rect x="966.6" y="56" width="65.4" height="706.7" fill="#FFFFFF"/>
<clipPath id="c6"><rect x="966.6" y="56" width="65.4" height="706.7"/></clipPath>
<g clip-path="url(#c6)">
<line x1="966.6" y1="650.02" x2="1032" y2="650.02" stroke="#EBEBEB" stroke-width="1.8"/>
<line x1="966.6" y1="489.47" x2="1032" y2="489.47" stroke="#EBEBEB" stroke-width="1.8"/>
<line x1="966.6" y1="328.92" x2="1032" y2="328.92" stroke="#EBEBEB" stroke-width="1.8"/>
<line x1="966.6" y1="168.37" x2="1032" y2="168.37" stroke="#EBEBEB" stroke-width="1.8"/>
<line x1="966.6" y1="730.3" x2="1032" y2="730.3" stroke="#EBEBEB" stroke-width="3.6"/>
<line x1="966.6" y1="569.75" x2="1032" y2="569.75" stroke="#EBEBEB" stroke-width="3.6"/>
<line x1="966.6" y1="409.2" x2="1032" y2="409.2" stroke="#EBEBEB" stroke-width="3.6"/>
<line x1="966.6" y1="248.65" x2="1032" y2="248.65" stroke="#EBEBEB" stroke-width="3.6"/>
<line x1="966.6" y1="88.1" x2="1032" y2="88.1" stroke="#EBEBEB" stroke-width="3.6"/>
<line x1="999.3" y1="56" x2="999.3" y2="762.7" stroke="#EBEBEB" stroke-width="3.6"/>
<line x1="966.6" y1="569.75" x2="1032" y2="569.75" stroke="#7A7A7A" stroke-width="3.7"/>
<line x1="966.6" y1="507.78" x2="1032" y2="507.78" stroke="#B22222" stroke-width="3.72" stroke-dasharray="3.72 11.16"/>
<line x1="999.3" y1="482.41" x2="999.3" y2="537.32" stroke="#B22222" stroke-width="2.4"/>
<circle cx="999.3" cy="507.78" r="9.2" fill="#B22222"/>
</g>
<rect x="967.55" y="56.95" width="63.5" height="704.8" fill="none" stroke="#333333" stroke-width="1.9"/>
<line x1="967.1" y1="56" x2="1031.5" y2="56" stroke="#333333" stroke-width="3.6"/>
<line x1="999.3" y1="762.7" x2="999.3" y2="772.4" stroke="#333333" stroke-width="3.6"/>
<text x="0" y="0" font-size="24.5" fill="#4D4D4D" text-anchor="end" font-family="'Liberation Sans', Arial, Helvetica, sans-serif" transform="translate(1008.9 779.5) rotate(-90)">Overall</text>
<line x1="956.9" y1="730.3" x2="966.6" y2="730.3" stroke="#333333" stroke-width="3.6"/>
<text x="949.3" y="738.8" font-size="24" fill="#4D4D4D" text-anchor="end" font-weight="normal" font-family="'Liberation Sans', Arial, Helvetica, sans-serif">0</text>
<line x1="956.9" y1="569.75" x2="966.6" y2="569.75" stroke="#333333" stroke-width="3.6"/>
<text x="949.3" y="578.25" font-size="24" fill="#4D4D4D" text-anchor="end" font-weight="normal" font-family="'Liberation Sans', Arial, Helvetica, sans-serif">1</text>
<line x1="956.9" y1="409.2" x2="966.6" y2="409.2" stroke="#333333" stroke-width="3.6"/>
<text x="949.3" y="417.7" font-size="24" fill="#4D4D4D" text-anchor="end" font-weight="normal" font-family="'Liberation Sans', Arial, Helvetica, sans-serif">2</text>
<line x1="956.9" y1="248.65" x2="966.6" y2="248.65" stroke="#333333" stroke-width="3.6"/>
<text x="949.3" y="257.15" font-size="24" fill="#4D4D4D" text-anchor="end" font-weight="normal" font-family="'Liberation Sans', Arial, Helvetica, sans-serif">3</text>
<line x1="956.9" y1="88.1" x2="966.6" y2="88.1" stroke="#333333" stroke-width="3.6"/>
<text x="949.3" y="96.6" font-size="24" fill="#4D4D4D" text-anchor="end" font-weight="normal" font-family="'Liberation Sans', Arial, Helvetica, sans-serif">4</text>
<rect x="1051.3" y="2.2" width="392.7" height="53.8" fill="#D9D9D9"/>
<rect x="1052.25" y="3.15" width="390.8" height="51.9" fill="none" stroke="#333333" stroke-width="1.9"/>
<text x="1247.65" y="37.7" font-size="24.5" fill="#1A1A1A" text-anchor="middle" font-weight="normal" font-family="'Liberation Sans', Arial, Helvetica, sans-serif">By epidemic phase</text>
<rect x="1051.3" y="56" width="392.7" height="706.7" fill="#FFFFFF"/>
<clipPath id="c7"><rect x="1051.3" y="56" width="392.7" height="706.7"/></clipPath>
<g clip-path="url(#c7)">
<line x1="1051.3" y1="650.02" x2="1444" y2="650.02" stroke="#EBEBEB" stroke-width="1.8"/>
<line x1="1051.3" y1="489.47" x2="1444" y2="489.47" stroke="#EBEBEB" stroke-width="1.8"/>
<line x1="1051.3" y1="328.92" x2="1444" y2="328.92" stroke="#EBEBEB" stroke-width="1.8"/>
<line x1="1051.3" y1="168.37" x2="1444" y2="168.37" stroke="#EBEBEB" stroke-width="1.8"/>
<line x1="1051.3" y1="730.3" x2="1444" y2="730.3" stroke="#EBEBEB" stroke-width="3.6"/>
<line x1="1051.3" y1="569.75" x2="1444" y2="569.75" stroke="#EBEBEB" stroke-width="3.6"/>
<line x1="1051.3" y1="409.2" x2="1444" y2="409.2" stroke="#EBEBEB" stroke-width="3.6"/>
<line x1="1051.3" y1="248.65" x2="1444" y2="248.65" stroke="#EBEBEB" stroke-width="3.6"/>
<line x1="1051.3" y1="88.1" x2="1444" y2="88.1" stroke="#EBEBEB" stroke-width="3.6"/>
<line x1="1084.02" y1="56" x2="1084.02" y2="762.7" stroke="#EBEBEB" stroke-width="3.6"/>
<line x1="1138.57" y1="56" x2="1138.57" y2="762.7" stroke="#EBEBEB" stroke-width="3.6"/>
<line x1="1193.11" y1="56" x2="1193.11" y2="762.7" stroke="#EBEBEB" stroke-width="3.6"/>
<line x1="1247.65" y1="56" x2="1247.65" y2="762.7" stroke="#EBEBEB" stroke-width="3.6"/>
<line x1="1302.19" y1="56" x2="1302.19" y2="762.7" stroke="#EBEBEB" stroke-width="3.6"/>
<line x1="1356.73" y1="56" x2="1356.73" y2="762.7" stroke="#EBEBEB" stroke-width="3.6"/>
<line x1="1411.28" y1="56" x2="1411.28" y2="762.7" stroke="#EBEBEB" stroke-width="3.6"/>
<line x1="1051.3" y1="569.75" x2="1444" y2="569.75" stroke="#7A7A7A" stroke-width="3.7"/>
<line x1="1051.3" y1="507.78" x2="1444" y2="507.78" stroke="#B22222" stroke-width="3.72" stroke-dasharray="3.72 11.16"/>
<line x1="1084.02" y1="425.9" x2="1084.02" y2="567.5" stroke="#B22222" stroke-width="2.4"/>
<line x1="1138.57" y1="-233" x2="1138.57" y2="695.14" stroke="#B22222" stroke-width="2.4"/>
<line x1="1193.11" y1="466.84" x2="1193.11" y2="525.28" stroke="#B22222" stroke-width="2.4"/>
<line x1="1247.65" y1="456.24" x2="1247.65" y2="728.69" stroke="#B22222" stroke-width="2.4"/>
<line x1="1302.19" y1="-233" x2="1302.19" y2="601.86" stroke="#B22222" stroke-width="2.4"/>
<line x1="1356.73" y1="204.34" x2="1356.73" y2="509.22" stroke="#B22222" stroke-width="2.4"/>
<line x1="1411.28" y1="263.9" x2="1411.28" y2="634.13" stroke="#B22222" stroke-width="2.4"/>
<circle cx="1084.02" cy="495.74" r="9.2" fill="#B22222"/>
<circle cx="1138.57" cy="408.72" r="9.2" fill="#B22222"/>
<circle cx="1193.11" cy="495.09" r="9.2" fill="#B22222"/>
<circle cx="1247.65" cy="662.39" r="9.2" fill="#B22222"/>
<circle cx="1302.19" cy="343.37" r="9.2" fill="#B22222"/>
<circle cx="1356.73" cy="359.75" r="9.2" fill="#B22222"/>
<circle cx="1411.28" cy="467.16" r="9.2" fill="#B22222"/>
</g>
<rect x="1052.25" y="56.95" width="390.8" height="704.8" fill="none" stroke="#333333" stroke-width="1.9"/>
<line x1="1051.8" y1="56" x2="1443.5" y2="56" stroke="#333333" stroke-width="3.6"/>
<line x1="1084.02" y1="762.7" x2="1084.02" y2="772.4" stroke="#333333" stroke-width="3.6"/>
<text x="0" y="0" font-size="24.5" fill="#4D4D4D" text-anchor="end" font-family="'Liberation Sans', Arial, Helvetica, sans-serif" transform="translate(1093.62 779.5) rotate(-90)">1</text>
<line x1="1138.57" y1="762.7" x2="1138.57" y2="772.4" stroke="#333333" stroke-width="3.6"/>
<text x="0" y="0" font-size="24.5" fill="#4D4D4D" text-anchor="end" font-family="'Liberation Sans', Arial, Helvetica, sans-serif" transform="translate(1148.17 779.5) rotate(-90)">2</text>
<line x1="1193.11" y1="762.7" x2="1193.11" y2="772.4" stroke="#333333" stroke-width="3.6"/>
<text x="0" y="0" font-size="24.5" fill="#4D4D4D" text-anchor="end" font-family="'Liberation Sans', Arial, Helvetica, sans-serif" transform="translate(1202.71 779.5) rotate(-90)">3</text>
<line x1="1247.65" y1="762.7" x2="1247.65" y2="772.4" stroke="#333333" stroke-width="3.6"/>
<text x="0" y="0" font-size="24.5" fill="#4D4D4D" text-anchor="end" font-family="'Liberation Sans', Arial, Helvetica, sans-serif" transform="translate(1257.25 779.5) rotate(-90)">4</text>
<line x1="1302.19" y1="762.7" x2="1302.19" y2="772.4" stroke="#333333" stroke-width="3.6"/>
<text x="0" y="0" font-size="24.5" fill="#4D4D4D" text-anchor="end" font-family="'Liberation Sans', Arial, Helvetica, sans-serif" transform="translate(1311.79 779.5) rotate(-90)">5</text>
<line x1="1356.73" y1="762.7" x2="1356.73" y2="772.4" stroke="#333333" stroke-width="3.6"/>
<text x="0" y="0" font-size="24.5" fill="#4D4D4D" text-anchor="end" font-family="'Liberation Sans', Arial, Helvetica, sans-serif" transform="translate(1366.33 779.5) rotate(-90)">6</text>
<line x1="1411.28" y1="762.7" x2="1411.28" y2="772.4" stroke="#333333" stroke-width="3.6"/>
<text x="0" y="0" font-size="24.5" fill="#4D4D4D" text-anchor="end" font-family="'Liberation Sans', Arial, Helvetica, sans-serif" transform="translate(1420.88 779.5) rotate(-90)">7</text>
<rect x="1463" y="2.2" width="284" height="53.8" fill="#D9D9D9"/>
<rect x="1463.95" y="3.15" width="282.1" height="51.9" fill="none" stroke="#333333" stroke-width="1.9"/>
<text x="1605" y="37.7" font-size="24.5" fill="#1A1A1A" text-anchor="middle" font-weight="normal" font-family="'Liberation Sans', Arial, Helvetica, sans-serif">By age group</text>
<rect x="1463" y="56" width="284" height="706.7" fill="#FFFFFF"/>
<clipPath id="c8"><rect x="1463" y="56" width="284" height="706.7"/></clipPath>
<g clip-path="url(#c8)">
<line x1="1463" y1="650.02" x2="1747" y2="650.02" stroke="#EBEBEB" stroke-width="1.8"/>
<line x1="1463" y1="489.47" x2="1747" y2="489.47" stroke="#EBEBEB" stroke-width="1.8"/>
<line x1="1463" y1="328.92" x2="1747" y2="328.92" stroke="#EBEBEB" stroke-width="1.8"/>
<line x1="1463" y1="168.37" x2="1747" y2="168.37" stroke="#EBEBEB" stroke-width="1.8"/>
<line x1="1463" y1="730.3" x2="1747" y2="730.3" stroke="#EBEBEB" stroke-width="3.6"/>
<line x1="1463" y1="569.75" x2="1747" y2="569.75" stroke="#EBEBEB" stroke-width="3.6"/>
<line x1="1463" y1="409.2" x2="1747" y2="409.2" stroke="#EBEBEB" stroke-width="3.6"/>
<line x1="1463" y1="248.65" x2="1747" y2="248.65" stroke="#EBEBEB" stroke-width="3.6"/>
<line x1="1463" y1="88.1" x2="1747" y2="88.1" stroke="#EBEBEB" stroke-width="3.6"/>
<line x1="1495.77" y1="56" x2="1495.77" y2="762.7" stroke="#EBEBEB" stroke-width="3.6"/>
<line x1="1550.38" y1="56" x2="1550.38" y2="762.7" stroke="#EBEBEB" stroke-width="3.6"/>
<line x1="1605" y1="56" x2="1605" y2="762.7" stroke="#EBEBEB" stroke-width="3.6"/>
<line x1="1659.62" y1="56" x2="1659.62" y2="762.7" stroke="#EBEBEB" stroke-width="3.6"/>
<line x1="1714.23" y1="56" x2="1714.23" y2="762.7" stroke="#EBEBEB" stroke-width="3.6"/>
<line x1="1463" y1="569.75" x2="1747" y2="569.75" stroke="#7A7A7A" stroke-width="3.7"/>
<line x1="1463" y1="507.78" x2="1747" y2="507.78" stroke="#B22222" stroke-width="3.72" stroke-dasharray="3.72 11.16"/>
<line x1="1495.77" y1="195.99" x2="1495.77" y2="695.94" stroke="#B22222" stroke-width="2.4"/>
<line x1="1550.38" y1="441.31" x2="1550.38" y2="713.6" stroke="#B22222" stroke-width="2.4"/>
<line x1="1605" y1="476.15" x2="1605" y2="644.41" stroke="#B22222" stroke-width="2.4"/>
<line x1="1659.62" y1="502.96" x2="1659.62" y2="573.12" stroke="#B22222" stroke-width="2.4"/>
<line x1="1714.23" y1="476.15" x2="1714.23" y2="510.51" stroke="#B22222" stroke-width="2.4"/>
<circle cx="1495.77" cy="523.35" r="9.2" fill="#B22222"/>
<circle cx="1550.38" cy="552.09" r="9.2" fill="#B22222"/>
<circle cx="1605" cy="549.84" r="9.2" fill="#B22222"/>
<circle cx="1659.62" cy="537.96" r="9.2" fill="#B22222"/>
<circle cx="1714.23" cy="492.2" r="9.2" fill="#B22222"/>
</g>
<rect x="1463.95" y="56.95" width="282.1" height="704.8" fill="none" stroke="#333333" stroke-width="1.9"/>
<line x1="1463.5" y1="56" x2="1746.5" y2="56" stroke="#333333" stroke-width="3.6"/>
<line x1="1495.77" y1="762.7" x2="1495.77" y2="772.4" stroke="#333333" stroke-width="3.6"/>
<text x="0" y="0" font-size="24.5" fill="#4D4D4D" text-anchor="end" font-family="'Liberation Sans', Arial, Helvetica, sans-serif" transform="translate(1505.37 779.5) rotate(-90)">0−39</text>
<line x1="1550.38" y1="762.7" x2="1550.38" y2="772.4" stroke="#333333" stroke-width="3.6"/>
<text x="0" y="0" font-size="24.5" fill="#4D4D4D" text-anchor="end" font-family="'Liberation Sans', Arial, Helvetica, sans-serif" transform="translate(1559.98 779.5) rotate(-90)">40−59</text>
<line x1="1605" y1="762.7" x2="1605" y2="772.4" stroke="#333333" stroke-width="3.6"/>
<text x="0" y="0" font-size="24.5" fill="#4D4D4D" text-anchor="end" font-family="'Liberation Sans', Arial, Helvetica, sans-serif" transform="translate(1614.6 779.5) rotate(-90)">60−69</text>
<line x1="1659.62" y1="762.7" x2="1659.62" y2="772.4" stroke="#333333" stroke-width="3.6"/>
<text x="0" y="0" font-size="24.5" fill="#4D4D4D" text-anchor="end" font-family="'Liberation Sans', Arial, Helvetica, sans-serif" transform="translate(1669.22 779.5) rotate(-90)">70−79</text>
<line x1="1714.23" y1="762.7" x2="1714.23" y2="772.4" stroke="#333333" stroke-width="3.6"/>
<text x="0" y="0" font-size="24.5" fill="#4D4D4D" text-anchor="end" font-family="'Liberation Sans', Arial, Helvetica, sans-serif" transform="translate(1723.83 779.5) rotate(-90)">80+</text>
<text x="0" y="0" font-size="30" fill="#000000" text-anchor="middle" font-family="'Liberation Serif', 'Times New Roman', serif" transform="translate(913.7 410.5) rotate(-90)">β<tspan font-size="21" dy="5.3" font-family="'Liberation Sans', Arial, Helvetica, sans-serif">1</tspan></text>
<rect x="987.1" y="895" width="63.8" height="53.3" fill="#D9D9D9"/>
<rect x="988.05" y="895.95" width="61.9" height="51.4" fill="none" stroke="#333333" stroke-width="1.9"/>
<rect x="987.1" y="948.3" width="63.8" height="706.2" fill="#FFFFFF"/>
<clipPath id="c9"><rect x="987.1" y="948.3" width="63.8" height="706.2"/></clipPath>
<g clip-path="url(#c9)">
<line x1="987.1" y1="1622.15" x2="1050.9" y2="1622.15" stroke="#EBEBEB" stroke-width="1.8"/>
<line x1="987.1" y1="1438.85" x2="1050.9" y2="1438.85" stroke="#EBEBEB" stroke-width="1.8"/>
<line x1="987.1" y1="1255.55" x2="1050.9" y2="1255.55" stroke="#EBEBEB" stroke-width="1.8"/>
<line x1="987.1" y1="1072.25" x2="1050.9" y2="1072.25" stroke="#EBEBEB" stroke-width="1.8"/>
<line x1="987.1" y1="1530.5" x2="1050.9" y2="1530.5" stroke="#EBEBEB" stroke-width="3.6"/>
<line x1="987.1" y1="1347.2" x2="1050.9" y2="1347.2" stroke="#EBEBEB" stroke-width="3.6"/>
<line x1="987.1" y1="1163.9" x2="1050.9" y2="1163.9" stroke="#EBEBEB" stroke-width="3.6"/>
<line x1="987.1" y1="980.6" x2="1050.9" y2="980.6" stroke="#EBEBEB" stroke-width="3.6"/>
<line x1="1019" y1="948.3" x2="1019" y2="1654.5" stroke="#EBEBEB" stroke-width="3.6"/>
<line x1="987.1" y1="1163.9" x2="1050.9" y2="1163.9" stroke="#7A7A7A" stroke-width="3.7"/>
<line x1="987.1" y1="1231.35" x2="1050.9" y2="1231.35" stroke="#6495ED" stroke-width="3.72" stroke-dasharray="3.72 11.16"/>
<line x1="1019" y1="1159.5" x2="1019" y2="1306.87" stroke="#6495ED" stroke-width="2.4"/>
<circle cx="1019" cy="1231.35" r="9.2" fill="#6495ED"/>
</g>
<rect x="988.05" y="949.25" width="61.9" height="704.3" fill="none" stroke="#333333" stroke-width="1.9"/>
<line x1="987.6" y1="948.3" x2="1050.4" y2="948.3" stroke="#333333" stroke-width="3.6"/>
<line x1="1019" y1="1654.5" x2="1019" y2="1664.2" stroke="#333333" stroke-width="3.6"/>
<text x="0" y="0" font-size="24.5" fill="#4D4D4D" text-anchor="end" font-family="'Liberation Sans', Arial, Helvetica, sans-serif" transform="translate(1028.6 1671.3) rotate(-90)">Overall</text>
<line x1="977.4" y1="1530.5" x2="987.1" y2="1530.5" stroke="#333333" stroke-width="3.6"/>
<text x="969.8" y="1539" font-size="24" fill="#4D4D4D" text-anchor="end" font-weight="normal" font-family="'Liberation Sans', Arial, Helvetica, sans-serif">0.8</text>
<line x1="977.4" y1="1347.2" x2="987.1" y2="1347.2" stroke="#333333" stroke-width="3.6"/>
<text x="969.8" y="1355.7" font-size="24" fill="#4D4D4D" text-anchor="end" font-weight="normal" font-family="'Liberation Sans', Arial, Helvetica, sans-serif">0.9</text>
<line x1="977.4" y1="1163.9" x2="987.1" y2="1163.9" stroke="#333333" stroke-width="3.6"/>
<text x="969.8" y="1172.4" font-size="24" fill="#4D4D4D" text-anchor="end" font-weight="normal" font-family="'Liberation Sans', Arial, Helvetica, sans-serif">1.0</text>
<line x1="977.4" y1="980.6" x2="987.1" y2="980.6" stroke="#333333" stroke-width="3.6"/>
<text x="969.8" y="989.1" font-size="24" fill="#4D4D4D" text-anchor="end" font-weight="normal" font-family="'Liberation Sans', Arial, Helvetica, sans-serif">1.1</text>
<rect x="1070" y="895" width="381.8" height="53.3" fill="#D9D9D9"/>
<rect x="1070.95" y="895.95" width="379.9" height="51.4" fill="none" stroke="#333333" stroke-width="1.9"/>
<text x="1260.9" y="930.25" font-size="24.5" fill="#1A1A1A" text-anchor="middle" font-weight="normal" font-family="'Liberation Sans', Arial, Helvetica, sans-serif">By epidemic phase</text>
<rect x="1070" y="948.3" width="381.8" height="706.2" fill="#FFFFFF"/>
<clipPath id="c10"><rect x="1070" y="948.3" width="381.8" height="706.2"/></clipPath>
<g clip-path="url(#c10)">
<line x1="1070" y1="1622.15" x2="1451.8" y2="1622.15" stroke="#EBEBEB" stroke-width="1.8"/>
<line x1="1070" y1="1438.85" x2="1451.8" y2="1438.85" stroke="#EBEBEB" stroke-width="1.8"/>
<line x1="1070" y1="1255.55" x2="1451.8" y2="1255.55" stroke="#EBEBEB" stroke-width="1.8"/>
<line x1="1070" y1="1072.25" x2="1451.8" y2="1072.25" stroke="#EBEBEB" stroke-width="1.8"/>
<line x1="1070" y1="1530.5" x2="1451.8" y2="1530.5" stroke="#EBEBEB" stroke-width="3.6"/>
<line x1="1070" y1="1347.2" x2="1451.8" y2="1347.2" stroke="#EBEBEB" stroke-width="3.6"/>
<line x1="1070" y1="1163.9" x2="1451.8" y2="1163.9" stroke="#EBEBEB" stroke-width="3.6"/>
<line x1="1070" y1="980.6" x2="1451.8" y2="980.6" stroke="#EBEBEB" stroke-width="3.6"/>
<line x1="1101.82" y1="948.3" x2="1101.82" y2="1654.5" stroke="#EBEBEB" stroke-width="3.6"/>
<line x1="1154.84" y1="948.3" x2="1154.84" y2="1654.5" stroke="#EBEBEB" stroke-width="3.6"/>
<line x1="1207.87" y1="948.3" x2="1207.87" y2="1654.5" stroke="#EBEBEB" stroke-width="3.6"/>
<line x1="1260.9" y1="948.3" x2="1260.9" y2="1654.5" stroke="#EBEBEB" stroke-width="3.6"/>
<line x1="1313.93" y1="948.3" x2="1313.93" y2="1654.5" stroke="#EBEBEB" stroke-width="3.6"/>
<line x1="1366.96" y1="948.3" x2="1366.96" y2="1654.5" stroke="#EBEBEB" stroke-width="3.6"/>
<line x1="1419.98" y1="948.3" x2="1419.98" y2="1654.5" stroke="#EBEBEB" stroke-width="3.6"/>
<line x1="1070" y1="1163.9" x2="1451.8" y2="1163.9" stroke="#7A7A7A" stroke-width="3.7"/>
<line x1="1070" y1="1231.35" x2="1451.8" y2="1231.35" stroke="#6495ED" stroke-width="3.72" stroke-dasharray="3.72 11.16"/>
<line x1="1101.82" y1="1174.9" x2="1101.82" y2="1366.63" stroke="#6495ED" stroke-width="2.4"/>
<line x1="1154.84" y1="1109.28" x2="1154.84" y2="1305.59" stroke="#6495ED" stroke-width="2.4"/>
<line x1="1207.87" y1="1188.65" x2="1207.87" y2="1449.85" stroke="#6495ED" stroke-width="2.4"/>
<line x1="1260.9" y1="1180.95" x2="1260.9" y2="1416.85" stroke="#6495ED" stroke-width="2.4"/>
<line x1="1313.93" y1="1057.95" x2="1313.93" y2="1312.37" stroke="#6495ED" stroke-width="2.4"/>
<line x1="1366.96" y1="1025.33" x2="1366.96" y2="1341.7" stroke="#6495ED" stroke-width="2.4"/>
<line x1="1419.98" y1="1117.53" x2="1419.98" y2="1419.97" stroke="#6495ED" stroke-width="2.4"/>
<circle cx="1101.82" cy="1265.08" r="9.2" fill="#6495ED"/>
<circle cx="1154.84" cy="1213.02" r="9.2" fill="#6495ED"/>
<circle cx="1207.87" cy="1301.01" r="9.2" fill="#6495ED"/>
<circle cx="1260.9" cy="1289.46" r="9.2" fill="#6495ED"/>
<circle cx="1313.93" cy="1204.59" r="9.2" fill="#6495ED"/>
<circle cx="1366.96" cy="1209.73" r="9.2" fill="#6495ED"/>
<circle cx="1419.98" cy="1259.95" r="9.2" fill="#6495ED"/>
</g>
<rect x="1070.95" y="949.25" width="379.9" height="704.3" fill="none" stroke="#333333" stroke-width="1.9"/>
<line x1="1070.5" y1="948.3" x2="1451.3" y2="948.3" stroke="#333333" stroke-width="3.6"/>
<line x1="1101.82" y1="1654.5" x2="1101.82" y2="1664.2" stroke="#333333" stroke-width="3.6"/>
<text x="0" y="0" font-size="24.5" fill="#4D4D4D" text-anchor="end" font-family="'Liberation Sans', Arial, Helvetica, sans-serif" transform="translate(1111.42 1671.3) rotate(-90)">1</text>
<line x1="1154.84" y1="1654.5" x2="1154.84" y2="1664.2" stroke="#333333" stroke-width="3.6"/>
<text x="0" y="0" font-size="24.5" fill="#4D4D4D" text-anchor="end" font-family="'Liberation Sans', Arial, Helvetica, sans-serif" transform="translate(1164.44 1671.3) rotate(-90)">2</text>
<line x1="1207.87" y1="1654.5" x2="1207.87" y2="1664.2" stroke="#333333" stroke-width="3.6"/>
<text x="0" y="0" font-size="24.5" fill="#4D4D4D" text-anchor="end" font-family="'Liberation Sans', Arial, Helvetica, sans-serif" transform="translate(1217.47 1671.3) rotate(-90)">3</text>
<line x1="1260.9" y1="1654.5" x2="1260.9" y2="1664.2" stroke="#333333" stroke-width="3.6"/>
<text x="0" y="0" font-size="24.5" fill="#4D4D4D" text-anchor="end" font-family="'Liberation Sans', Arial, Helvetica, sans-serif" transform="translate(1270.5 1671.3) rotate(-90)">4</text>
<line x1="1313.93" y1="1654.5" x2="1313.93" y2="1664.2" stroke="#333333" stroke-width="3.6"/>
<text x="0" y="0" font-size="24.5" fill="#4D4D4D" text-anchor="end" font-family="'Liberation Sans', Arial, Helvetica, sans-serif" transform="translate(1323.53 1671.3) rotate(-90)">5</text>
<line x1="1366.96" y1="1654.5" x2="1366.96" y2="1664.2" stroke="#333333" stroke-width="3.6"/>
<text x="0" y="0" font-size="24.5" fill="#4D4D4D" text-anchor="end" font-family="'Liberation Sans', Arial, Helvetica, sans-serif" transform="translate(1376.56 1671.3) rotate(-90)">6</text>
<line x1="1419.98" y1="1654.5" x2="1419.98" y2="1664.2" stroke="#333333" stroke-width="3.6"/>
<text x="0" y="0" font-size="24.5" fill="#4D4D4D" text-anchor="end" font-family="'Liberation Sans', Arial, Helvetica, sans-serif" transform="translate(1429.58 1671.3) rotate(-90)">7</text>
<rect x="1471.1" y="895" width="275.9" height="53.3" fill="#D9D9D9"/>
<rect x="1472.05" y="895.95" width="274" height="51.4" fill="none" stroke="#333333" stroke-width="1.9"/>
<text x="1609.05" y="930.25" font-size="24.5" fill="#1A1A1A" text-anchor="middle" font-weight="normal" font-family="'Liberation Sans', Arial, Helvetica, sans-serif">By age group</text>
<rect x="1471.1" y="948.3" width="275.9" height="706.2" fill="#FFFFFF"/>
<clipPath id="c11"><rect x="1471.1" y="948.3" width="275.9" height="706.2"/></clipPath>
<g clip-path="url(#c11)">
<line x1="1471.1" y1="1622.15" x2="1747" y2="1622.15" stroke="#EBEBEB" stroke-width="1.8"/>
<line x1="1471.1" y1="1438.85" x2="1747" y2="1438.85" stroke="#EBEBEB" stroke-width="1.8"/>
<line x1="1471.1" y1="1255.55" x2="1747" y2="1255.55" stroke="#EBEBEB" stroke-width="1.8"/>
<line x1="1471.1" y1="1072.25" x2="1747" y2="1072.25" stroke="#EBEBEB" stroke-width="1.8"/>
<line x1="1471.1" y1="1530.5" x2="1747" y2="1530.5" stroke="#EBEBEB" stroke-width="3.6"/>
<line x1="1471.1" y1="1347.2" x2="1747" y2="1347.2" stroke="#EBEBEB" stroke-width="3.6"/>
<line x1="1471.1" y1="1163.9" x2="1747" y2="1163.9" stroke="#EBEBEB" stroke-width="3.6"/>
<line x1="1471.1" y1="980.6" x2="1747" y2="980.6" stroke="#EBEBEB" stroke-width="3.6"/>
<line x1="1502.93" y1="948.3" x2="1502.93" y2="1654.5" stroke="#EBEBEB" stroke-width="3.6"/>
<line x1="1555.99" y1="948.3" x2="1555.99" y2="1654.5" stroke="#EBEBEB" stroke-width="3.6"/>
<line x1="1609.05" y1="948.3" x2="1609.05" y2="1654.5" stroke="#EBEBEB" stroke-width="3.6"/>
<line x1="1662.11" y1="948.3" x2="1662.11" y2="1654.5" stroke="#EBEBEB" stroke-width="3.6"/>
<line x1="1715.17" y1="948.3" x2="1715.17" y2="1654.5" stroke="#EBEBEB" stroke-width="3.6"/>
<line x1="1471.1" y1="1163.9" x2="1747" y2="1163.9" stroke="#7A7A7A" stroke-width="3.7"/>
<line x1="1471.1" y1="1231.35" x2="1747" y2="1231.35" stroke="#6495ED" stroke-width="3.72" stroke-dasharray="3.72 11.16"/>
<line x1="1502.93" y1="1037.42" x2="1502.93" y2="1470.74" stroke="#6495ED" stroke-width="2.4"/>
<line x1="1555.99" y1="1250.05" x2="1555.99" y2="1512.54" stroke="#6495ED" stroke-width="2.4"/>
<line x1="1609.05" y1="1195.06" x2="1609.05" y2="1443.8" stroke="#6495ED" stroke-width="2.4"/>
<line x1="1662.11" y1="1051.17" x2="1662.11" y2="1250.97" stroke="#6495ED" stroke-width="2.4"/>
<line x1="1715.17" y1="1139.15" x2="1715.17" y2="1308.71" stroke="#6495ED" stroke-width="2.4"/>
<circle cx="1502.93" cy="1276.26" r="9.2" fill="#6495ED"/>
<circle cx="1555.99" cy="1381.48" r="9.2" fill="#6495ED"/>
<circle cx="1609.05" cy="1318.42" r="9.2" fill="#6495ED"/>
<circle cx="1662.11" cy="1153.82" r="9.2" fill="#6495ED"/>
<circle cx="1715.17" cy="1225.12" r="9.2" fill="#6495ED"/>
</g>
<rect x="1472.05" y="949.25" width="274" height="704.3" fill="none" stroke="#333333" stroke-width="1.9"/>
<line x1="1471.6" y1="948.3" x2="1746.5" y2="948.3" stroke="#333333" stroke-width="3.6"/>
<line x1="1502.93" y1="1654.5" x2="1502.93" y2="1664.2" stroke="#333333" stroke-width="3.6"/>
<text x="0" y="0" font-size="24.5" fill="#4D4D4D" text-anchor="end" font-family="'Liberation Sans', Arial, Helvetica, sans-serif" transform="translate(1512.53 1671.3) rotate(-90)">0−39</text>
<line x1="1555.99" y1="1654.5" x2="1555.99" y2="1664.2" stroke="#333333" stroke-width="3.6"/>
<text x="0" y="0" font-size="24.5" fill="#4D4D4D" text-anchor="end" font-family="'Liberation Sans', Arial, Helvetica, sans-serif" transform="translate(1565.59 1671.3) rotate(-90)">40−59</text>
<line x1="1609.05" y1="1654.5" x2="1609.05" y2="1664.2" stroke="#333333" stroke-width="3.6"/>
<text x="0" y="0" font-size="24.5" fill="#4D4D4D" text-anchor="end" font-family="'Liberation Sans', Arial, Helvetica, sans-serif" transform="translate(1618.65 1671.3) rotate(-90)">60−69</text>
<line x1="1662.11" y1="1654.5" x2="1662.11" y2="1664.2" stroke="#333333" stroke-width="3.6"/>
<text x="0" y="0" font-size="24.5" fill="#4D4D4D" text-anchor="end" font-family="'Liberation Sans', Arial, Helvetica, sans-serif" transform="translate(1671.71 1671.3) rotate(-90)">70−79</text>
<line x1="1715.17" y1="1654.5" x2="1715.17" y2="1664.2" stroke="#333333" stroke-width="3.6"/>
<text x="0" y="0" font-size="24.5" fill="#4D4D4D" text-anchor="end" font-family="'Liberation Sans', Arial, Helvetica, sans-serif" transform="translate(1724.77 1671.3) rotate(-90)">80+</text>
<text x="0" y="0" font-size="30" fill="#000000" text-anchor="middle" font-family="'Liberation Serif', 'Times New Roman', serif" transform="translate(913.7 1301.4) rotate(-90)">β<tspan font-size="21" dy="5.3" font-family="'Liberation Sans', Arial, Helvetica, sans-serif">2</tspan></text>
</svg>
</body></html>
